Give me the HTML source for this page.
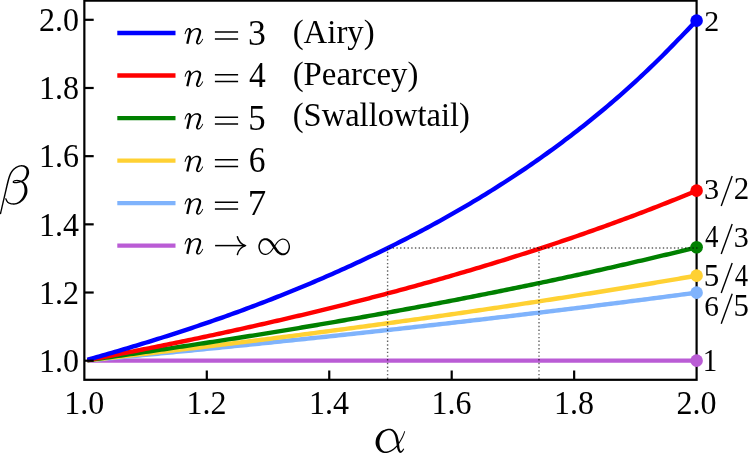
<!DOCTYPE html>
<html><head><meta charset="utf-8"><title>chart</title>
<style>
html,body{margin:0;padding:0;background:#fff;}
body{width:748px;height:453px;overflow:hidden;}
svg{display:block;}
text{font-family:"Liberation Serif",serif;fill:#000;}
.tk{font-size:32px;}
.lt{font-size:32.8px;}
</style></head><body>
<svg width="748" height="453" viewBox="0 0 748 453">
<rect x="0" y="0" width="748" height="453" fill="#ffffff"/>

<path d="M87.41,360.65 L90.47,360.65 L93.53,360.65 L96.59,360.65 L99.66,360.65 L102.72,360.65 L105.78,360.65 L108.84,360.65 L111.90,360.65 L114.96,360.65 L118.02,360.65 L121.08,360.65 L124.15,360.65 L127.21,360.65 L130.27,360.65 L133.33,360.65 L136.39,360.65 L139.45,360.65 L142.51,360.65 L145.57,360.65 L148.64,360.65 L151.70,360.65 L154.76,360.65 L157.82,360.65 L160.88,360.65 L163.94,360.65 L167.00,360.65 L170.06,360.65 L173.13,360.65 L176.19,360.65 L179.25,360.65 L182.31,360.65 L185.37,360.65 L188.43,360.65 L191.49,360.65 L194.55,360.65 L197.62,360.65 L200.68,360.65 L203.74,360.65 L206.80,360.65 L209.86,360.65 L212.92,360.65 L215.98,360.65 L219.04,360.65 L222.11,360.65 L225.17,360.65 L228.23,360.65 L231.29,360.65 L234.35,360.65 L237.41,360.65 L240.47,360.65 L243.53,360.65 L246.60,360.65 L249.66,360.65 L252.72,360.65 L255.78,360.65 L258.84,360.65 L261.90,360.65 L264.96,360.65 L268.02,360.65 L271.09,360.65 L274.15,360.65 L277.21,360.65 L280.27,360.65 L283.33,360.65 L286.39,360.65 L289.45,360.65 L292.51,360.65 L295.58,360.65 L298.64,360.65 L301.70,360.65 L304.76,360.65 L307.82,360.65 L310.88,360.65 L313.94,360.65 L317.00,360.65 L320.07,360.65 L323.13,360.65 L326.19,360.65 L329.25,360.65 L332.31,360.65 L335.37,360.65 L338.43,360.65 L341.49,360.65 L344.56,360.65 L347.62,360.65 L350.68,360.65 L353.74,360.65 L356.80,360.65 L359.86,360.65 L362.92,360.65 L365.98,360.65 L369.05,360.65 L372.11,360.65 L375.17,360.65 L378.23,360.65 L381.29,360.65 L384.35,360.65 L387.41,360.65 L390.47,360.65 L393.54,360.65 L396.60,360.65 L399.66,360.65 L402.72,360.65 L405.78,360.65 L408.84,360.65 L411.90,360.65 L414.96,360.65 L418.03,360.65 L421.09,360.65 L424.15,360.65 L427.21,360.65 L430.27,360.65 L433.33,360.65 L436.39,360.65 L439.45,360.65 L442.52,360.65 L445.58,360.65 L448.64,360.65 L451.70,360.65 L454.76,360.65 L457.82,360.65 L460.88,360.65 L463.94,360.65 L467.01,360.65 L470.07,360.65 L473.13,360.65 L476.19,360.65 L479.25,360.65 L482.31,360.65 L485.37,360.65 L488.43,360.65 L491.50,360.65 L494.56,360.65 L497.62,360.65 L500.68,360.65 L503.74,360.65 L506.80,360.65 L509.86,360.65 L512.92,360.65 L515.99,360.65 L519.05,360.65 L522.11,360.65 L525.17,360.65 L528.23,360.65 L531.29,360.65 L534.35,360.65 L537.41,360.65 L540.48,360.65 L543.54,360.65 L546.60,360.65 L549.66,360.65 L552.72,360.65 L555.78,360.65 L558.84,360.65 L561.90,360.65 L564.97,360.65 L568.03,360.65 L571.09,360.65 L574.15,360.65 L577.21,360.65 L580.27,360.65 L583.33,360.65 L586.39,360.65 L589.46,360.65 L592.52,360.65 L595.58,360.65 L598.64,360.65 L601.70,360.65 L604.76,360.65 L607.82,360.65 L610.88,360.65 L613.95,360.65 L617.01,360.65 L620.07,360.65 L623.13,360.65 L626.19,360.65 L629.25,360.65 L632.31,360.65 L635.37,360.65 L638.44,360.65 L641.50,360.65 L644.56,360.65 L647.62,360.65 L650.68,360.65 L653.74,360.65 L656.80,360.65 L659.86,360.65 L662.93,360.65 L665.99,360.65 L669.05,360.65 L672.11,360.65 L675.17,360.65 L678.23,360.65 L681.29,360.65 L684.35,360.65 L687.42,360.65 L690.48,360.65 L693.54,360.65 L696.60,360.65" stroke="#ba5cd5" stroke-width="4.4" fill="none" stroke-linejoin="round"/>
<path d="M87.41,360.37 L90.47,360.08 L93.53,359.80 L96.59,359.51 L99.66,359.23 L102.72,358.94 L105.78,358.66 L108.84,358.37 L111.90,358.08 L114.96,357.79 L118.02,357.50 L121.08,357.22 L124.15,356.93 L127.21,356.64 L130.27,356.35 L133.33,356.06 L136.39,355.76 L139.45,355.47 L142.51,355.18 L145.57,354.89 L148.64,354.59 L151.70,354.30 L154.76,354.01 L157.82,353.71 L160.88,353.42 L163.94,353.12 L167.00,352.82 L170.06,352.53 L173.13,352.23 L176.19,351.93 L179.25,351.63 L182.31,351.33 L185.37,351.04 L188.43,350.74 L191.49,350.44 L194.55,350.13 L197.62,349.83 L200.68,349.53 L203.74,349.23 L206.80,348.93 L209.86,348.62 L212.92,348.32 L215.98,348.01 L219.04,347.71 L222.11,347.40 L225.17,347.10 L228.23,346.79 L231.29,346.48 L234.35,346.18 L237.41,345.87 L240.47,345.56 L243.53,345.25 L246.60,344.94 L249.66,344.63 L252.72,344.32 L255.78,344.01 L258.84,343.69 L261.90,343.38 L264.96,343.07 L268.02,342.76 L271.09,342.44 L274.15,342.13 L277.21,341.81 L280.27,341.50 L283.33,341.18 L286.39,340.86 L289.45,340.54 L292.51,340.23 L295.58,339.91 L298.64,339.59 L301.70,339.27 L304.76,338.95 L307.82,338.63 L310.88,338.31 L313.94,337.98 L317.00,337.66 L320.07,337.34 L323.13,337.01 L326.19,336.69 L329.25,336.36 L332.31,336.04 L335.37,335.71 L338.43,335.39 L341.49,335.06 L344.56,334.73 L347.62,334.40 L350.68,334.07 L353.74,333.74 L356.80,333.41 L359.86,333.08 L362.92,332.75 L365.98,332.42 L369.05,332.09 L372.11,331.75 L375.17,331.42 L378.23,331.08 L381.29,330.75 L384.35,330.41 L387.41,330.08 L390.47,329.74 L393.54,329.40 L396.60,329.07 L399.66,328.73 L402.72,328.39 L405.78,328.05 L408.84,327.71 L411.90,327.37 L414.96,327.02 L418.03,326.68 L421.09,326.34 L424.15,325.99 L427.21,325.65 L430.27,325.31 L433.33,324.96 L436.39,324.61 L439.45,324.27 L442.52,323.92 L445.58,323.57 L448.64,323.22 L451.70,322.87 L454.76,322.52 L457.82,322.17 L460.88,321.82 L463.94,321.47 L467.01,321.12 L470.07,320.76 L473.13,320.41 L476.19,320.05 L479.25,319.70 L482.31,319.34 L485.37,318.98 L488.43,318.63 L491.50,318.27 L494.56,317.91 L497.62,317.55 L500.68,317.19 L503.74,316.83 L506.80,316.47 L509.86,316.11 L512.92,315.74 L515.99,315.38 L519.05,315.02 L522.11,314.65 L525.17,314.29 L528.23,313.92 L531.29,313.55 L534.35,313.19 L537.41,312.82 L540.48,312.45 L543.54,312.08 L546.60,311.71 L549.66,311.34 L552.72,310.97 L555.78,310.59 L558.84,310.22 L561.90,309.85 L564.97,309.47 L568.03,309.10 L571.09,308.72 L574.15,308.34 L577.21,307.96 L580.27,307.59 L583.33,307.21 L586.39,306.83 L589.46,306.45 L592.52,306.07 L595.58,305.68 L598.64,305.30 L601.70,304.92 L604.76,304.53 L607.82,304.15 L610.88,303.76 L613.95,303.38 L617.01,302.99 L620.07,302.60 L623.13,302.21 L626.19,301.82 L629.25,301.43 L632.31,301.04 L635.37,300.65 L638.44,300.26 L641.50,299.86 L644.56,299.47 L647.62,299.08 L650.68,298.68 L653.74,298.28 L656.80,297.89 L659.86,297.49 L662.93,297.09 L665.99,296.69 L669.05,296.29 L672.11,295.89 L675.17,295.49 L678.23,295.08 L681.29,294.68 L684.35,294.28 L687.42,293.87 L690.48,293.46 L693.54,293.06 L696.60,292.65" stroke="#7fb3fc" stroke-width="4.4" fill="none" stroke-linejoin="round"/>
<path d="M87.41,360.31 L90.47,359.97 L93.53,359.63 L96.59,359.28 L99.66,358.94 L102.72,358.60 L105.78,358.25 L108.84,357.91 L111.90,357.56 L114.96,357.22 L118.02,356.87 L121.08,356.52 L124.15,356.17 L127.21,355.82 L130.27,355.47 L133.33,355.12 L136.39,354.77 L139.45,354.42 L142.51,354.06 L145.57,353.71 L148.64,353.36 L151.70,353.00 L154.76,352.65 L157.82,352.29 L160.88,351.93 L163.94,351.57 L167.00,351.22 L170.06,350.86 L173.13,350.50 L176.19,350.13 L179.25,349.77 L182.31,349.41 L185.37,349.05 L188.43,348.68 L191.49,348.32 L194.55,347.95 L197.62,347.59 L200.68,347.22 L203.74,346.85 L206.80,346.48 L209.86,346.11 L212.92,345.74 L215.98,345.37 L219.04,345.00 L222.11,344.63 L225.17,344.26 L228.23,343.88 L231.29,343.51 L234.35,343.13 L237.41,342.76 L240.47,342.38 L243.53,342.00 L246.60,341.62 L249.66,341.24 L252.72,340.86 L255.78,340.48 L258.84,340.10 L261.90,339.72 L264.96,339.33 L268.02,338.95 L271.09,338.56 L274.15,338.18 L277.21,337.79 L280.27,337.40 L283.33,337.01 L286.39,336.62 L289.45,336.23 L292.51,335.84 L295.58,335.45 L298.64,335.06 L301.70,334.67 L304.76,334.27 L307.82,333.88 L310.88,333.48 L313.94,333.08 L317.00,332.68 L320.07,332.29 L323.13,331.89 L326.19,331.49 L329.25,331.08 L332.31,330.68 L335.37,330.28 L338.43,329.88 L341.49,329.47 L344.56,329.07 L347.62,328.66 L350.68,328.25 L353.74,327.84 L356.80,327.43 L359.86,327.02 L362.92,326.61 L365.98,326.20 L369.05,325.79 L372.11,325.37 L375.17,324.96 L378.23,324.54 L381.29,324.13 L384.35,323.71 L387.41,323.29 L390.47,322.87 L393.54,322.45 L396.60,322.03 L399.66,321.61 L402.72,321.19 L405.78,320.76 L408.84,320.34 L411.90,319.91 L414.96,319.48 L418.03,319.06 L421.09,318.63 L424.15,318.20 L427.21,317.77 L430.27,317.34 L433.33,316.90 L436.39,316.47 L439.45,316.03 L442.52,315.60 L445.58,315.16 L448.64,314.72 L451.70,314.29 L454.76,313.85 L457.82,313.41 L460.88,312.96 L463.94,312.52 L467.01,312.08 L470.07,311.63 L473.13,311.19 L476.19,310.74 L479.25,310.29 L482.31,309.85 L485.37,309.40 L488.43,308.94 L491.50,308.49 L494.56,308.04 L497.62,307.59 L500.68,307.13 L503.74,306.68 L506.80,306.22 L509.86,305.76 L512.92,305.30 L515.99,304.84 L519.05,304.38 L522.11,303.92 L525.17,303.45 L528.23,302.99 L531.29,302.52 L534.35,302.06 L537.41,301.59 L540.48,301.12 L543.54,300.65 L546.60,300.18 L549.66,299.71 L552.72,299.23 L555.78,298.76 L558.84,298.28 L561.90,297.81 L564.97,297.33 L568.03,296.85 L571.09,296.37 L574.15,295.89 L577.21,295.41 L580.27,294.92 L583.33,294.44 L586.39,293.95 L589.46,293.46 L592.52,292.98 L595.58,292.49 L598.64,292.00 L601.70,291.50 L604.76,291.01 L607.82,290.52 L610.88,290.02 L613.95,289.53 L617.01,289.03 L620.07,288.53 L623.13,288.03 L626.19,287.53 L629.25,287.02 L632.31,286.52 L635.37,286.02 L638.44,285.51 L641.50,285.00 L644.56,284.49 L647.62,283.98 L650.68,283.47 L653.74,282.96 L656.80,282.45 L659.86,281.93 L662.93,281.41 L665.99,280.90 L669.05,280.38 L672.11,279.86 L675.17,279.34 L678.23,278.81 L681.29,278.29 L684.35,277.76 L687.42,277.24 L690.48,276.71 L693.54,276.18 L696.60,275.65" stroke="#ffd133" stroke-width="4.4" fill="none" stroke-linejoin="round"/>
<path d="M87.41,360.22 L90.47,359.80 L93.53,359.37 L96.59,358.94 L99.66,358.51 L102.72,358.08 L105.78,357.65 L108.84,357.22 L111.90,356.78 L114.96,356.35 L118.02,355.91 L121.08,355.47 L124.15,355.03 L127.21,354.59 L130.27,354.15 L133.33,353.71 L136.39,353.27 L139.45,352.82 L142.51,352.38 L145.57,351.93 L148.64,351.48 L151.70,351.04 L154.76,350.59 L157.82,350.13 L160.88,349.68 L163.94,349.23 L167.00,348.77 L170.06,348.32 L173.13,347.86 L176.19,347.40 L179.25,346.94 L182.31,346.48 L185.37,346.02 L188.43,345.56 L191.49,345.09 L194.55,344.63 L197.62,344.16 L200.68,343.69 L203.74,343.23 L206.80,342.76 L209.86,342.28 L212.92,341.81 L215.98,341.34 L219.04,340.86 L222.11,340.39 L225.17,339.91 L228.23,339.43 L231.29,338.95 L234.35,338.47 L237.41,337.98 L240.47,337.50 L243.53,337.01 L246.60,336.53 L249.66,336.04 L252.72,335.55 L255.78,335.06 L258.84,334.57 L261.90,334.07 L264.96,333.58 L268.02,333.08 L271.09,332.59 L274.15,332.09 L277.21,331.59 L280.27,331.08 L283.33,330.58 L286.39,330.08 L289.45,329.57 L292.51,329.07 L295.58,328.56 L298.64,328.05 L301.70,327.54 L304.76,327.02 L307.82,326.51 L310.88,325.99 L313.94,325.48 L317.00,324.96 L320.07,324.44 L323.13,323.92 L326.19,323.40 L329.25,322.87 L332.31,322.35 L335.37,321.82 L338.43,321.29 L341.49,320.76 L344.56,320.23 L347.62,319.70 L350.68,319.16 L353.74,318.63 L356.80,318.09 L359.86,317.55 L362.92,317.01 L365.98,316.47 L369.05,315.93 L372.11,315.38 L375.17,314.83 L378.23,314.29 L381.29,313.74 L384.35,313.19 L387.41,312.63 L390.47,312.08 L393.54,311.52 L396.60,310.97 L399.66,310.41 L402.72,309.85 L405.78,309.28 L408.84,308.72 L411.90,308.15 L414.96,307.59 L418.03,307.02 L421.09,306.45 L424.15,305.87 L427.21,305.30 L430.27,304.73 L433.33,304.15 L436.39,303.57 L439.45,302.99 L442.52,302.41 L445.58,301.82 L448.64,301.24 L451.70,300.65 L454.76,300.06 L457.82,299.47 L460.88,298.88 L463.94,298.28 L467.01,297.69 L470.07,297.09 L473.13,296.49 L476.19,295.89 L479.25,295.28 L482.31,294.68 L485.37,294.07 L488.43,293.46 L491.50,292.85 L494.56,292.24 L497.62,291.63 L500.68,291.01 L503.74,290.39 L506.80,289.77 L509.86,289.15 L512.92,288.53 L515.99,287.90 L519.05,287.28 L522.11,286.65 L525.17,286.02 L528.23,285.38 L531.29,284.75 L534.35,284.11 L537.41,283.47 L540.48,282.83 L543.54,282.19 L546.60,281.54 L549.66,280.90 L552.72,280.25 L555.78,279.60 L558.84,278.94 L561.90,278.29 L564.97,277.63 L568.03,276.97 L571.09,276.31 L574.15,275.65 L577.21,274.98 L580.27,274.32 L583.33,273.65 L586.39,272.98 L589.46,272.30 L592.52,271.63 L595.58,270.95 L598.64,270.27 L601.70,269.59 L604.76,268.90 L607.82,268.22 L610.88,267.53 L613.95,266.84 L617.01,266.15 L620.07,265.45 L623.13,264.75 L626.19,264.05 L629.25,263.35 L632.31,262.65 L635.37,261.94 L638.44,261.23 L641.50,260.52 L644.56,259.81 L647.62,259.09 L650.68,258.37 L653.74,257.65 L656.80,256.93 L659.86,256.21 L662.93,255.48 L665.99,254.75 L669.05,254.02 L672.11,253.28 L675.17,252.54 L678.23,251.81 L681.29,251.06 L684.35,250.32 L687.42,249.57 L690.48,248.82 L693.54,248.07 L696.60,247.32" stroke="#008000" stroke-width="4.4" fill="none" stroke-linejoin="round"/>
<path d="M87.41,360.08 L90.47,359.51 L93.53,358.94 L96.59,358.37 L99.66,357.79 L102.72,357.22 L105.78,356.64 L108.84,356.06 L111.90,355.47 L114.96,354.89 L118.02,354.30 L121.08,353.71 L124.15,353.12 L127.21,352.53 L130.27,351.93 L133.33,351.33 L136.39,350.74 L139.45,350.13 L142.51,349.53 L145.57,348.93 L148.64,348.32 L151.70,347.71 L154.76,347.10 L157.82,346.48 L160.88,345.87 L163.94,345.25 L167.00,344.63 L170.06,344.01 L173.13,343.38 L176.19,342.76 L179.25,342.13 L182.31,341.50 L185.37,340.86 L188.43,340.23 L191.49,339.59 L194.55,338.95 L197.62,338.31 L200.68,337.66 L203.74,337.01 L206.80,336.36 L209.86,335.71 L212.92,335.06 L215.98,334.40 L219.04,333.74 L222.11,333.08 L225.17,332.42 L228.23,331.75 L231.29,331.08 L234.35,330.41 L237.41,329.74 L240.47,329.07 L243.53,328.39 L246.60,327.71 L249.66,327.02 L252.72,326.34 L255.78,325.65 L258.84,324.96 L261.90,324.27 L264.96,323.57 L268.02,322.87 L271.09,322.17 L274.15,321.47 L277.21,320.76 L280.27,320.05 L283.33,319.34 L286.39,318.63 L289.45,317.91 L292.51,317.19 L295.58,316.47 L298.64,315.74 L301.70,315.02 L304.76,314.29 L307.82,313.55 L310.88,312.82 L313.94,312.08 L317.00,311.34 L320.07,310.59 L323.13,309.85 L326.19,309.10 L329.25,308.34 L332.31,307.59 L335.37,306.83 L338.43,306.07 L341.49,305.30 L344.56,304.53 L347.62,303.76 L350.68,302.99 L353.74,302.21 L356.80,301.43 L359.86,300.65 L362.92,299.86 L365.98,299.08 L369.05,298.28 L372.11,297.49 L375.17,296.69 L378.23,295.89 L381.29,295.08 L384.35,294.28 L387.41,293.46 L390.47,292.65 L393.54,291.83 L396.60,291.01 L399.66,290.19 L402.72,289.36 L405.78,288.53 L408.84,287.69 L411.90,286.86 L414.96,286.02 L418.03,285.17 L421.09,284.32 L424.15,283.47 L427.21,282.62 L430.27,281.76 L433.33,280.90 L436.39,280.03 L439.45,279.16 L442.52,278.29 L445.58,277.41 L448.64,276.53 L451.70,275.65 L454.76,274.76 L457.82,273.87 L460.88,272.98 L463.94,272.08 L467.01,271.18 L470.07,270.27 L473.13,269.36 L476.19,268.45 L479.25,267.53 L482.31,266.61 L485.37,265.68 L488.43,264.75 L491.50,263.82 L494.56,262.88 L497.62,261.94 L500.68,260.99 L503.74,260.05 L506.80,259.09 L509.86,258.13 L512.92,257.17 L515.99,256.21 L519.05,255.24 L522.11,254.26 L525.17,253.28 L528.23,252.30 L531.29,251.31 L534.35,250.32 L537.41,249.32 L540.48,248.32 L543.54,247.32 L546.60,246.31 L549.66,245.29 L552.72,244.27 L555.78,243.25 L558.84,242.22 L561.90,241.19 L564.97,240.15 L568.03,239.11 L571.09,238.06 L574.15,237.01 L577.21,235.96 L580.27,234.90 L583.33,233.83 L586.39,232.76 L589.46,231.68 L592.52,230.60 L595.58,229.52 L598.64,228.43 L601.70,227.33 L604.76,226.23 L607.82,225.13 L610.88,224.01 L613.95,222.90 L617.01,221.78 L620.07,220.65 L623.13,219.52 L626.19,218.38 L629.25,217.24 L632.31,216.09 L635.37,214.94 L638.44,213.78 L641.50,212.61 L644.56,211.44 L647.62,210.27 L650.68,209.08 L653.74,207.90 L656.80,206.70 L659.86,205.50 L662.93,204.30 L665.99,203.09 L669.05,201.87 L672.11,200.65 L675.17,199.42 L678.23,198.19 L681.29,196.95 L684.35,195.70 L687.42,194.45 L690.48,193.19 L693.54,191.92 L696.60,190.65" stroke="#ff0000" stroke-width="4.4" fill="none" stroke-linejoin="round"/>
<path d="M87.41,359.80 L90.47,358.94 L93.53,358.08 L96.59,357.22 L99.66,356.35 L102.72,355.47 L105.78,354.59 L108.84,353.71 L111.90,352.82 L114.96,351.93 L118.02,351.04 L121.08,350.13 L124.15,349.23 L127.21,348.32 L130.27,347.40 L133.33,346.48 L136.39,345.56 L139.45,344.63 L142.51,343.69 L145.57,342.76 L148.64,341.81 L151.70,340.86 L154.76,339.91 L157.82,338.95 L160.88,337.98 L163.94,337.01 L167.00,336.04 L170.06,335.06 L173.13,334.07 L176.19,333.08 L179.25,332.09 L182.31,331.08 L185.37,330.08 L188.43,329.07 L191.49,328.05 L194.55,327.02 L197.62,325.99 L200.68,324.96 L203.74,323.92 L206.80,322.87 L209.86,321.82 L212.92,320.76 L215.98,319.70 L219.04,318.63 L222.11,317.55 L225.17,316.47 L228.23,315.38 L231.29,314.29 L234.35,313.19 L237.41,312.08 L240.47,310.95 L243.53,309.82 L246.60,308.68 L249.66,307.53 L252.72,306.38 L255.78,305.22 L258.84,304.06 L261.90,302.89 L264.96,301.71 L268.02,300.52 L271.09,299.33 L274.15,298.13 L277.21,296.92 L280.27,295.71 L283.33,294.48 L286.39,293.26 L289.45,292.02 L292.51,290.78 L295.58,289.53 L298.64,288.27 L301.70,287.00 L304.76,285.73 L307.82,284.45 L310.88,283.16 L313.94,281.86 L317.00,280.56 L320.07,279.25 L323.13,277.93 L326.19,276.60 L329.25,275.26 L332.31,273.91 L335.37,272.56 L338.43,271.20 L341.49,269.83 L344.56,268.45 L347.62,267.06 L350.68,265.66 L353.74,264.26 L356.80,262.84 L359.86,261.42 L362.92,259.99 L365.98,258.55 L369.05,257.09 L372.11,255.63 L375.17,254.16 L378.23,252.68 L381.29,251.19 L384.35,249.69 L387.41,248.19 L390.47,246.67 L393.54,245.15 L396.60,243.62 L399.66,242.08 L402.72,240.52 L405.78,238.96 L408.84,237.39 L411.90,235.81 L414.96,234.21 L418.03,232.61 L421.09,230.99 L424.15,229.37 L427.21,227.73 L430.27,226.08 L433.33,224.42 L436.39,222.74 L439.45,221.06 L442.52,219.36 L445.58,217.66 L448.64,215.94 L451.70,214.20 L454.76,212.46 L457.82,210.70 L460.88,208.93 L463.94,207.15 L467.01,205.35 L470.07,203.54 L473.13,201.72 L476.19,199.88 L479.25,198.03 L482.31,196.17 L485.37,194.29 L488.43,192.40 L491.50,190.50 L494.56,188.58 L497.62,186.65 L500.68,184.70 L503.74,182.74 L506.80,180.76 L509.86,178.76 L512.92,176.76 L515.99,174.73 L519.05,172.69 L522.11,170.64 L525.17,168.57 L528.23,166.48 L531.29,164.38 L534.35,162.25 L537.41,160.12 L540.48,157.96 L543.54,155.79 L546.60,153.60 L549.66,151.40 L552.72,149.17 L555.78,146.93 L558.84,144.67 L561.90,142.39 L564.97,140.09 L568.03,137.77 L571.09,135.44 L574.15,133.08 L577.21,130.71 L580.27,128.32 L583.33,125.91 L586.39,123.48 L589.46,121.03 L592.52,118.55 L595.58,116.06 L598.64,113.54 L601.70,111.01 L604.76,108.45 L607.82,105.86 L610.88,103.26 L613.95,100.63 L617.01,97.98 L620.07,95.31 L623.13,92.61 L626.19,89.88 L629.25,87.14 L632.31,84.37 L635.37,81.57 L638.44,78.75 L641.50,75.90 L644.56,73.02 L647.62,70.12 L650.68,67.19 L653.74,64.24 L656.80,61.25 L659.86,58.24 L662.93,55.20 L665.99,52.13 L669.05,49.03 L672.11,45.90 L675.17,42.75 L678.23,39.56 L681.29,36.44 L684.35,33.28 L687.42,30.10 L690.48,26.88 L693.54,23.63 L696.60,20.35" stroke="#0000ff" stroke-width="4.4" fill="none" stroke-linejoin="round"/>
<g stroke="#000" stroke-width="2.2" fill="none">
<rect x="84.35" y="0.65" width="612.25" height="379.15"/>
<line x1="206.80" y1="379.8" x2="206.80" y2="370.5"/>
<line x1="329.25" y1="379.8" x2="329.25" y2="370.5"/>
<line x1="451.70" y1="379.8" x2="451.70" y2="370.5"/>
<line x1="574.15" y1="379.8" x2="574.15" y2="370.5"/>
<line x1="84.35" y1="360.70" x2="93.7" y2="360.70"/>
<line x1="84.35" y1="292.52" x2="93.7" y2="292.52"/>
<line x1="84.35" y1="224.34" x2="93.7" y2="224.34"/>
<line x1="84.35" y1="156.16" x2="93.7" y2="156.16"/>
<line x1="84.35" y1="87.98" x2="93.7" y2="87.98"/>
<line x1="84.35" y1="19.80" x2="93.7" y2="19.80"/>
</g>
<circle cx="696.60" cy="360.65" r="6.3" fill="#ba5cd5"/>
<circle cx="696.60" cy="292.65" r="6.3" fill="#7fb3fc"/>
<circle cx="696.60" cy="275.65" r="6.3" fill="#ffd133"/>
<circle cx="696.60" cy="247.32" r="6.3" fill="#008000"/>
<circle cx="696.60" cy="190.65" r="6.3" fill="#ff0000"/>
<circle cx="696.60" cy="20.65" r="6.3" fill="#0000ff"/>
<g stroke="#000" stroke-width="1.4" stroke-dasharray="1.4 2.3" stroke-opacity="0.62" fill="none">
<line x1="387.6" y1="379.0" x2="387.6" y2="248.0"/>
<line x1="539.0" y1="379.0" x2="539.0" y2="248.0"/>
<line x1="697.5" y1="248.0" x2="387.6" y2="248.0"/>
</g>
<g style="will-change:transform">
<text class="tk" transform="translate(84.15,413.9) scale(1,1.07)" text-anchor="middle">1.0</text>
<text class="tk" transform="translate(78.9,371.90) scale(1,1.07)" text-anchor="end">1.0</text>
<text class="tk" transform="translate(206.60,413.9) scale(1,1.07)" text-anchor="middle">1.2</text>
<text class="tk" transform="translate(78.9,303.72) scale(1,1.07)" text-anchor="end">1.2</text>
<text class="tk" transform="translate(329.05,413.9) scale(1,1.07)" text-anchor="middle">1.4</text>
<text class="tk" transform="translate(78.9,235.54) scale(1,1.07)" text-anchor="end">1.4</text>
<text class="tk" transform="translate(451.50,413.9) scale(1,1.07)" text-anchor="middle">1.6</text>
<text class="tk" transform="translate(78.9,167.36) scale(1,1.07)" text-anchor="end">1.6</text>
<text class="tk" transform="translate(573.95,413.9) scale(1,1.07)" text-anchor="middle">1.8</text>
<text class="tk" transform="translate(78.9,99.18) scale(1,1.07)" text-anchor="end">1.8</text>
<text class="tk" transform="translate(696.40,413.9) scale(1,1.07)" text-anchor="middle">2.0</text>
<text class="tk" transform="translate(78.9,31.00) scale(1,1.07)" text-anchor="end">2.0</text>
<line x1="117.3" y1="33.0" x2="175.5" y2="33.0" stroke="#0000ff" stroke-width="4.3"/>
<path d="M185.37,34.34 L185.45,34.11 L185.54,33.89 L185.62,33.66 L185.70,33.43 L185.77,33.20 L185.85,32.98 L185.93,32.75 L186.01,32.54 L186.09,32.32 L186.17,32.11 L186.25,31.92 L186.33,31.73 L186.42,31.55 L186.51,31.38 L186.60,31.22 L186.70,31.06 L186.80,30.90 L186.90,30.75 L187.00,30.60 L187.11,30.46 L187.21,30.32 L187.32,30.20 L187.42,30.08 L187.53,29.97 L187.63,29.88 L187.72,29.79 L187.82,29.71 L187.91,29.65 L188.00,29.61 L188.10,29.57 L188.19,29.53 L188.29,29.51 L188.38,29.49 L188.47,29.48 L188.55,29.47 L188.63,29.48 L188.69,29.49 L188.74,29.50 L188.78,29.52 L188.80,29.54 L188.81,29.56 L188.80,29.58 L188.80,29.60 L188.81,29.63 L188.83,29.66 L188.85,29.71 L188.88,29.76 L188.90,29.82 L188.92,29.88 L188.94,29.95 L188.96,30.03 L188.97,30.11 L188.98,30.19 L188.99,30.28 L188.99,30.37 L188.99,30.47 L188.99,30.57 L188.99,30.68 L188.98,30.81 L188.97,30.96 L188.95,31.11 L188.92,31.29 L188.89,31.48 L188.85,31.68 L188.80,31.90 L188.75,32.13 L188.70,32.38 L188.64,32.65 L188.58,32.93 L188.52,33.22 L188.46,33.52 L188.39,33.84 L188.32,34.19 L188.24,34.54 L188.16,34.92 L188.07,35.30 L187.99,35.69 L187.89,36.09 L187.80,36.49 L187.71,36.89 L187.62,37.29 L187.53,37.68 L187.44,38.07 L187.35,38.44 L187.27,38.81 L187.18,39.17 L187.10,39.54 L187.02,39.90 L186.93,40.26 L186.85,40.62 L186.76,40.98 L186.68,41.34 L186.60,41.70 L186.51,42.06 L186.43,42.42 L186.35,42.79 L186.26,43.15 L186.18,43.51 L188.42,44.03 L188.50,43.67 L188.59,43.31 L188.67,42.95 L188.75,42.59 L188.84,42.23 L188.92,41.87 L189.01,41.51 L189.09,41.14 L189.17,40.78 L189.26,40.42 L189.34,40.05 L189.43,39.69 L189.51,39.32 L189.59,38.95 L189.68,38.58 L189.77,38.20 L189.86,37.80 L189.95,37.41 L190.04,37.00 L190.14,36.60 L190.23,36.20 L190.32,35.81 L190.40,35.42 L190.49,35.04 L190.57,34.67 L190.64,34.32 L190.71,33.98 L190.78,33.66 L190.83,33.37 L190.88,33.10 L190.93,32.83 L190.98,32.58 L191.02,32.33 L191.07,32.09 L191.10,31.85 L191.14,31.62 L191.17,31.39 L191.19,31.16 L191.20,30.93 L191.20,30.70 L191.20,30.47 L191.17,30.23 L191.12,30.00 L191.06,29.78 L190.98,29.57 L190.89,29.37 L190.79,29.18 L190.69,29.00 L190.57,28.84 L190.44,28.68 L190.30,28.54 L190.16,28.41 L190.01,28.30 L189.85,28.19 L189.69,28.10 L189.51,28.03 L189.31,27.97 L189.11,27.94 L188.92,27.93 L188.73,27.94 L188.56,27.97 L188.38,28.01 L188.21,28.06 L188.05,28.13 L187.89,28.20 L187.74,28.28 L187.59,28.37 L187.45,28.47 L187.31,28.58 L187.18,28.70 L187.05,28.81 L186.92,28.94 L186.80,29.07 L186.68,29.21 L186.56,29.36 L186.44,29.51 L186.33,29.67 L186.22,29.84 L186.11,30.01 L186.01,30.18 L185.90,30.36 L185.81,30.55 L185.71,30.73 L185.62,30.92 L185.52,31.12 L185.43,31.33 L185.34,31.55 L185.26,31.77 L185.18,31.99 L185.11,32.22 L185.03,32.45 L184.96,32.68 L184.89,32.91 L184.81,33.14 L184.74,33.37 L184.67,33.59 L184.60,33.81 L184.52,34.03Z M189.79,35.52 L189.96,35.24 L190.13,34.95 L190.30,34.65 L190.46,34.36 L190.63,34.06 L190.79,33.76 L190.95,33.47 L191.12,33.19 L191.28,32.91 L191.45,32.65 L191.61,32.40 L191.78,32.16 L191.95,31.93 L192.13,31.73 L192.32,31.53 L192.51,31.34 L192.70,31.15 L192.90,30.98 L193.11,30.81 L193.31,30.65 L193.52,30.50 L193.72,30.36 L193.93,30.23 L194.14,30.11 L194.34,30.00 L194.55,29.90 L194.75,29.81 L194.94,29.73 L195.14,29.67 L195.35,29.63 L195.55,29.59 L195.76,29.56 L195.97,29.54 L196.17,29.53 L196.37,29.53 L196.57,29.53 L196.77,29.55 L196.95,29.57 L197.13,29.60 L197.29,29.64 L197.44,29.69 L197.58,29.74 L197.71,29.80 L197.84,29.87 L197.97,29.95 L198.10,30.04 L198.23,30.14 L198.35,30.24 L198.46,30.35 L198.57,30.46 L198.66,30.57 L198.73,30.68 L198.79,30.78 L198.84,30.88 L198.87,30.97 L198.89,31.05 L198.91,31.13 L198.93,31.22 L198.94,31.32 L198.94,31.43 L198.94,31.56 L198.93,31.70 L198.90,31.87 L198.88,32.05 L198.84,32.25 L198.79,32.46 L198.74,32.70 L198.68,32.95 L198.61,33.21 L198.55,33.48 L198.48,33.76 L198.40,34.06 L198.30,34.38 L198.20,34.73 L198.08,35.09 L197.96,35.46 L197.83,35.83 L197.70,36.21 L197.57,36.59 L197.44,36.96 L197.31,37.33 L197.19,37.68 L197.07,38.02 L196.97,38.33 L196.89,38.61 L196.80,38.88 L196.71,39.15 L196.62,39.42 L196.52,39.69 L196.43,39.95 L196.34,40.21 L196.25,40.47 L196.17,40.73 L196.09,40.99 L196.03,41.25 L195.98,41.51 L195.95,41.78 L195.93,42.05 L195.95,42.31 L195.99,42.57 L196.05,42.80 L196.13,43.03 L196.23,43.24 L196.34,43.43 L196.46,43.61 L196.59,43.77 L196.73,43.91 L196.88,44.04 L197.03,44.16 L197.19,44.25 L197.35,44.34 L197.52,44.41 L197.71,44.46 L197.90,44.50 L198.08,44.51 L198.27,44.50 L198.45,44.48 L198.63,44.45 L198.80,44.41 L198.98,44.35 L199.15,44.28 L199.31,44.21 L199.48,44.12 L199.64,44.03 L199.79,43.92 L199.95,43.81 L200.10,43.70 L200.26,43.57 L200.41,43.43 L200.56,43.28 L200.70,43.12 L200.85,42.95 L200.99,42.78 L201.13,42.61 L201.26,42.43 L201.40,42.25 L201.53,42.08 L201.65,41.90 L201.77,41.72 L201.89,41.55 L202.01,41.38 L202.12,41.20 L202.22,41.01 L202.33,40.83 L202.42,40.65 L202.52,40.46 L202.61,40.28 L202.70,40.09 L202.79,39.91 L202.88,39.73 L202.97,39.54 L203.05,39.37 L203.14,39.19 L203.23,39.01 L202.53,38.63 L202.43,38.81 L202.33,38.99 L202.23,39.17 L202.14,39.35 L202.04,39.53 L201.95,39.71 L201.85,39.89 L201.76,40.06 L201.66,40.23 L201.57,40.40 L201.47,40.57 L201.37,40.73 L201.26,40.88 L201.15,41.04 L201.03,41.20 L200.91,41.36 L200.79,41.53 L200.66,41.69 L200.53,41.86 L200.39,42.02 L200.26,42.17 L200.13,42.32 L200.00,42.46 L199.87,42.59 L199.74,42.71 L199.62,42.82 L199.50,42.91 L199.39,42.98 L199.27,43.04 L199.15,43.09 L199.03,43.13 L198.90,43.17 L198.78,43.20 L198.67,43.22 L198.56,43.23 L198.46,43.24 L198.36,43.23 L198.28,43.22 L198.21,43.20 L198.16,43.18 L198.12,43.16 L198.10,43.13 L198.07,43.10 L198.03,43.05 L197.99,43.00 L197.96,42.94 L197.92,42.87 L197.89,42.80 L197.86,42.73 L197.83,42.65 L197.82,42.58 L197.80,42.50 L197.80,42.41 L197.80,42.33 L197.81,42.24 L197.83,42.15 L197.86,42.05 L197.89,41.92 L197.94,41.78 L198.01,41.61 L198.09,41.42 L198.18,41.22 L198.29,41.00 L198.40,40.76 L198.52,40.51 L198.64,40.25 L198.77,39.97 L198.90,39.68 L199.02,39.38 L199.15,39.07 L199.25,38.76 L199.36,38.43 L199.48,38.08 L199.61,37.72 L199.74,37.35 L199.88,36.96 L200.01,36.58 L200.14,36.19 L200.27,35.80 L200.39,35.42 L200.50,35.05 L200.61,34.69 L200.71,34.34 L200.78,34.02 L200.85,33.73 L200.91,33.45 L200.96,33.18 L201.02,32.92 L201.06,32.66 L201.11,32.40 L201.14,32.14 L201.16,31.88 L201.17,31.61 L201.17,31.35 L201.14,31.08 L201.10,30.81 L201.03,30.53 L200.94,30.26 L200.81,30.00 L200.65,29.76 L200.48,29.54 L200.29,29.34 L200.10,29.15 L199.89,28.98 L199.68,28.82 L199.46,28.68 L199.23,28.55 L199.00,28.43 L198.76,28.33 L198.53,28.24 L198.29,28.17 L198.04,28.11 L197.80,28.07 L197.55,28.04 L197.30,28.02 L197.04,28.02 L196.78,28.03 L196.52,28.05 L196.26,28.08 L196.00,28.12 L195.74,28.18 L195.49,28.24 L195.23,28.32 L194.98,28.41 L194.73,28.51 L194.49,28.62 L194.25,28.73 L194.02,28.85 L193.78,28.98 L193.55,29.13 L193.32,29.28 L193.09,29.45 L192.86,29.62 L192.63,29.80 L192.41,29.99 L192.20,30.19 L191.98,30.40 L191.77,30.62 L191.57,30.84 L191.37,31.07 L191.17,31.32 L190.98,31.58 L190.80,31.85 L190.62,32.13 L190.45,32.42 L190.28,32.72 L190.12,33.01 L189.96,33.31 L189.80,33.61 L189.65,33.91 L189.49,34.21 L189.33,34.50 L189.17,34.79 L189.01,35.07Z" fill="#000"/>
<path d="M214.9,32.10H238.1M214.9,38.90H238.1" stroke="#000" stroke-width="1.5" fill="none"/>
<text font-size="100" transform="translate(248.09,44.65) scale(0.3583,0.3602)" >3</text>
<text class="lt" x="292.7" y="42.6">(Airy)</text>
<line x1="117.3" y1="75.5" x2="175.5" y2="75.5" stroke="#ff0000" stroke-width="4.3"/>
<path d="M185.37,76.89 L185.45,76.66 L185.54,76.44 L185.62,76.21 L185.70,75.98 L185.77,75.75 L185.85,75.53 L185.93,75.30 L186.01,75.09 L186.09,74.87 L186.17,74.66 L186.25,74.47 L186.33,74.28 L186.42,74.10 L186.51,73.93 L186.60,73.77 L186.70,73.61 L186.80,73.45 L186.90,73.30 L187.00,73.15 L187.11,73.01 L187.21,72.87 L187.32,72.75 L187.42,72.63 L187.53,72.52 L187.63,72.43 L187.72,72.34 L187.82,72.26 L187.91,72.20 L188.00,72.16 L188.10,72.12 L188.19,72.08 L188.29,72.06 L188.38,72.04 L188.47,72.03 L188.55,72.02 L188.63,72.03 L188.69,72.04 L188.74,72.05 L188.78,72.07 L188.80,72.09 L188.81,72.11 L188.80,72.13 L188.80,72.15 L188.81,72.18 L188.83,72.21 L188.85,72.26 L188.88,72.31 L188.90,72.37 L188.92,72.43 L188.94,72.50 L188.96,72.58 L188.97,72.66 L188.98,72.74 L188.99,72.83 L188.99,72.92 L188.99,73.02 L188.99,73.12 L188.99,73.23 L188.98,73.36 L188.97,73.51 L188.95,73.66 L188.92,73.84 L188.89,74.03 L188.85,74.23 L188.80,74.45 L188.75,74.68 L188.70,74.93 L188.64,75.20 L188.58,75.48 L188.52,75.77 L188.46,76.07 L188.39,76.39 L188.32,76.74 L188.24,77.09 L188.16,77.47 L188.07,77.85 L187.99,78.24 L187.89,78.64 L187.80,79.04 L187.71,79.44 L187.62,79.84 L187.53,80.23 L187.44,80.62 L187.35,80.99 L187.27,81.36 L187.18,81.72 L187.10,82.09 L187.02,82.45 L186.93,82.81 L186.85,83.17 L186.76,83.53 L186.68,83.89 L186.60,84.25 L186.51,84.61 L186.43,84.97 L186.35,85.34 L186.26,85.70 L186.18,86.06 L188.42,86.58 L188.50,86.22 L188.59,85.86 L188.67,85.50 L188.75,85.14 L188.84,84.78 L188.92,84.42 L189.01,84.06 L189.09,83.69 L189.17,83.33 L189.26,82.97 L189.34,82.60 L189.43,82.24 L189.51,81.87 L189.59,81.50 L189.68,81.13 L189.77,80.75 L189.86,80.35 L189.95,79.96 L190.04,79.55 L190.14,79.15 L190.23,78.75 L190.32,78.36 L190.40,77.97 L190.49,77.59 L190.57,77.22 L190.64,76.87 L190.71,76.53 L190.78,76.21 L190.83,75.92 L190.88,75.65 L190.93,75.38 L190.98,75.13 L191.02,74.88 L191.07,74.64 L191.10,74.40 L191.14,74.17 L191.17,73.94 L191.19,73.71 L191.20,73.48 L191.20,73.25 L191.20,73.02 L191.17,72.78 L191.12,72.55 L191.06,72.33 L190.98,72.12 L190.89,71.92 L190.79,71.73 L190.69,71.55 L190.57,71.39 L190.44,71.23 L190.30,71.09 L190.16,70.96 L190.01,70.85 L189.85,70.74 L189.69,70.65 L189.51,70.58 L189.31,70.52 L189.11,70.49 L188.92,70.48 L188.73,70.49 L188.56,70.52 L188.38,70.56 L188.21,70.61 L188.05,70.68 L187.89,70.75 L187.74,70.83 L187.59,70.92 L187.45,71.02 L187.31,71.13 L187.18,71.25 L187.05,71.36 L186.92,71.49 L186.80,71.62 L186.68,71.76 L186.56,71.91 L186.44,72.06 L186.33,72.22 L186.22,72.39 L186.11,72.56 L186.01,72.73 L185.90,72.91 L185.81,73.10 L185.71,73.28 L185.62,73.47 L185.52,73.67 L185.43,73.88 L185.34,74.10 L185.26,74.32 L185.18,74.54 L185.11,74.77 L185.03,75.00 L184.96,75.23 L184.89,75.46 L184.81,75.69 L184.74,75.92 L184.67,76.14 L184.60,76.36 L184.52,76.58Z M189.79,78.07 L189.96,77.79 L190.13,77.50 L190.30,77.20 L190.46,76.91 L190.63,76.61 L190.79,76.31 L190.95,76.02 L191.12,75.74 L191.28,75.46 L191.45,75.20 L191.61,74.95 L191.78,74.71 L191.95,74.48 L192.13,74.28 L192.32,74.08 L192.51,73.89 L192.70,73.70 L192.90,73.53 L193.11,73.36 L193.31,73.20 L193.52,73.05 L193.72,72.91 L193.93,72.78 L194.14,72.66 L194.34,72.55 L194.55,72.45 L194.75,72.36 L194.94,72.28 L195.14,72.22 L195.35,72.18 L195.55,72.14 L195.76,72.11 L195.97,72.09 L196.17,72.08 L196.37,72.08 L196.57,72.08 L196.77,72.10 L196.95,72.12 L197.13,72.15 L197.29,72.19 L197.44,72.24 L197.58,72.29 L197.71,72.35 L197.84,72.42 L197.97,72.50 L198.10,72.59 L198.23,72.69 L198.35,72.79 L198.46,72.90 L198.57,73.01 L198.66,73.12 L198.73,73.23 L198.79,73.33 L198.84,73.43 L198.87,73.52 L198.89,73.60 L198.91,73.68 L198.93,73.77 L198.94,73.87 L198.94,73.98 L198.94,74.11 L198.93,74.25 L198.90,74.42 L198.88,74.60 L198.84,74.80 L198.79,75.01 L198.74,75.25 L198.68,75.50 L198.61,75.76 L198.55,76.03 L198.48,76.31 L198.40,76.61 L198.30,76.93 L198.20,77.28 L198.08,77.64 L197.96,78.01 L197.83,78.38 L197.70,78.76 L197.57,79.14 L197.44,79.51 L197.31,79.88 L197.19,80.23 L197.07,80.57 L196.97,80.88 L196.89,81.16 L196.80,81.43 L196.71,81.70 L196.62,81.97 L196.52,82.24 L196.43,82.50 L196.34,82.76 L196.25,83.02 L196.17,83.28 L196.09,83.54 L196.03,83.80 L195.98,84.06 L195.95,84.33 L195.93,84.60 L195.95,84.86 L195.99,85.12 L196.05,85.35 L196.13,85.58 L196.23,85.79 L196.34,85.98 L196.46,86.16 L196.59,86.32 L196.73,86.46 L196.88,86.59 L197.03,86.71 L197.19,86.80 L197.35,86.89 L197.52,86.96 L197.71,87.01 L197.90,87.05 L198.08,87.06 L198.27,87.05 L198.45,87.03 L198.63,87.00 L198.80,86.96 L198.98,86.90 L199.15,86.83 L199.31,86.76 L199.48,86.67 L199.64,86.58 L199.79,86.47 L199.95,86.36 L200.10,86.25 L200.26,86.12 L200.41,85.98 L200.56,85.83 L200.70,85.67 L200.85,85.50 L200.99,85.33 L201.13,85.16 L201.26,84.98 L201.40,84.80 L201.53,84.63 L201.65,84.45 L201.77,84.27 L201.89,84.10 L202.01,83.93 L202.12,83.75 L202.22,83.56 L202.33,83.38 L202.42,83.20 L202.52,83.01 L202.61,82.83 L202.70,82.64 L202.79,82.46 L202.88,82.28 L202.97,82.09 L203.05,81.92 L203.14,81.74 L203.23,81.56 L202.53,81.18 L202.43,81.36 L202.33,81.54 L202.23,81.72 L202.14,81.90 L202.04,82.08 L201.95,82.26 L201.85,82.44 L201.76,82.61 L201.66,82.78 L201.57,82.95 L201.47,83.12 L201.37,83.28 L201.26,83.43 L201.15,83.59 L201.03,83.75 L200.91,83.91 L200.79,84.08 L200.66,84.24 L200.53,84.41 L200.39,84.57 L200.26,84.72 L200.13,84.87 L200.00,85.01 L199.87,85.14 L199.74,85.26 L199.62,85.37 L199.50,85.46 L199.39,85.53 L199.27,85.59 L199.15,85.64 L199.03,85.68 L198.90,85.72 L198.78,85.75 L198.67,85.77 L198.56,85.78 L198.46,85.79 L198.36,85.78 L198.28,85.77 L198.21,85.75 L198.16,85.73 L198.12,85.71 L198.10,85.68 L198.07,85.65 L198.03,85.60 L197.99,85.55 L197.96,85.49 L197.92,85.42 L197.89,85.35 L197.86,85.28 L197.83,85.20 L197.82,85.13 L197.80,85.05 L197.80,84.96 L197.80,84.88 L197.81,84.79 L197.83,84.70 L197.86,84.60 L197.89,84.47 L197.94,84.33 L198.01,84.16 L198.09,83.97 L198.18,83.77 L198.29,83.55 L198.40,83.31 L198.52,83.06 L198.64,82.80 L198.77,82.52 L198.90,82.23 L199.02,81.93 L199.15,81.62 L199.25,81.31 L199.36,80.98 L199.48,80.63 L199.61,80.27 L199.74,79.90 L199.88,79.51 L200.01,79.13 L200.14,78.74 L200.27,78.35 L200.39,77.97 L200.50,77.60 L200.61,77.24 L200.71,76.89 L200.78,76.57 L200.85,76.28 L200.91,76.00 L200.96,75.73 L201.02,75.47 L201.06,75.21 L201.11,74.95 L201.14,74.69 L201.16,74.43 L201.17,74.16 L201.17,73.90 L201.14,73.63 L201.10,73.36 L201.03,73.08 L200.94,72.81 L200.81,72.55 L200.65,72.31 L200.48,72.09 L200.29,71.89 L200.10,71.70 L199.89,71.53 L199.68,71.37 L199.46,71.23 L199.23,71.10 L199.00,70.98 L198.76,70.88 L198.53,70.79 L198.29,70.72 L198.04,70.66 L197.80,70.62 L197.55,70.59 L197.30,70.57 L197.04,70.57 L196.78,70.58 L196.52,70.60 L196.26,70.63 L196.00,70.67 L195.74,70.73 L195.49,70.79 L195.23,70.87 L194.98,70.96 L194.73,71.06 L194.49,71.17 L194.25,71.28 L194.02,71.40 L193.78,71.53 L193.55,71.68 L193.32,71.83 L193.09,72.00 L192.86,72.17 L192.63,72.35 L192.41,72.54 L192.20,72.74 L191.98,72.95 L191.77,73.17 L191.57,73.39 L191.37,73.62 L191.17,73.87 L190.98,74.13 L190.80,74.40 L190.62,74.68 L190.45,74.97 L190.28,75.27 L190.12,75.56 L189.96,75.86 L189.80,76.16 L189.65,76.46 L189.49,76.76 L189.33,77.05 L189.17,77.34 L189.01,77.62Z" fill="#000"/>
<path d="M214.9,74.65H238.1M214.9,81.45H238.1" stroke="#000" stroke-width="1.5" fill="none"/>
<text font-size="100" transform="translate(248.94,87.15) scale(0.3356,0.3616)" >4</text>
<text class="lt" x="292.7" y="84.8">(Pearcey)</text>
<line x1="117.3" y1="118.2" x2="175.5" y2="118.2" stroke="#008000" stroke-width="4.3"/>
<path d="M185.37,119.44 L185.45,119.21 L185.54,118.99 L185.62,118.76 L185.70,118.53 L185.77,118.30 L185.85,118.08 L185.93,117.85 L186.01,117.64 L186.09,117.42 L186.17,117.21 L186.25,117.02 L186.33,116.83 L186.42,116.65 L186.51,116.48 L186.60,116.32 L186.70,116.16 L186.80,116.00 L186.90,115.85 L187.00,115.70 L187.11,115.56 L187.21,115.42 L187.32,115.30 L187.42,115.18 L187.53,115.07 L187.63,114.98 L187.72,114.89 L187.82,114.81 L187.91,114.75 L188.00,114.71 L188.10,114.67 L188.19,114.63 L188.29,114.61 L188.38,114.59 L188.47,114.58 L188.55,114.57 L188.63,114.58 L188.69,114.59 L188.74,114.60 L188.78,114.62 L188.80,114.64 L188.81,114.66 L188.80,114.68 L188.80,114.70 L188.81,114.73 L188.83,114.76 L188.85,114.81 L188.88,114.86 L188.90,114.92 L188.92,114.98 L188.94,115.05 L188.96,115.13 L188.97,115.21 L188.98,115.29 L188.99,115.38 L188.99,115.47 L188.99,115.57 L188.99,115.67 L188.99,115.78 L188.98,115.91 L188.97,116.06 L188.95,116.21 L188.92,116.39 L188.89,116.58 L188.85,116.78 L188.80,117.00 L188.75,117.23 L188.70,117.48 L188.64,117.75 L188.58,118.03 L188.52,118.32 L188.46,118.62 L188.39,118.94 L188.32,119.29 L188.24,119.64 L188.16,120.02 L188.07,120.40 L187.99,120.79 L187.89,121.19 L187.80,121.59 L187.71,121.99 L187.62,122.39 L187.53,122.78 L187.44,123.17 L187.35,123.54 L187.27,123.91 L187.18,124.27 L187.10,124.64 L187.02,125.00 L186.93,125.36 L186.85,125.72 L186.76,126.08 L186.68,126.44 L186.60,126.80 L186.51,127.16 L186.43,127.52 L186.35,127.89 L186.26,128.25 L186.18,128.61 L188.42,129.13 L188.50,128.77 L188.59,128.41 L188.67,128.05 L188.75,127.69 L188.84,127.33 L188.92,126.97 L189.01,126.61 L189.09,126.24 L189.17,125.88 L189.26,125.52 L189.34,125.15 L189.43,124.79 L189.51,124.42 L189.59,124.05 L189.68,123.68 L189.77,123.30 L189.86,122.90 L189.95,122.51 L190.04,122.10 L190.14,121.70 L190.23,121.30 L190.32,120.91 L190.40,120.52 L190.49,120.14 L190.57,119.77 L190.64,119.42 L190.71,119.08 L190.78,118.76 L190.83,118.47 L190.88,118.20 L190.93,117.93 L190.98,117.68 L191.02,117.43 L191.07,117.19 L191.10,116.95 L191.14,116.72 L191.17,116.49 L191.19,116.26 L191.20,116.03 L191.20,115.80 L191.20,115.57 L191.17,115.33 L191.12,115.10 L191.06,114.88 L190.98,114.67 L190.89,114.47 L190.79,114.28 L190.69,114.10 L190.57,113.94 L190.44,113.78 L190.30,113.64 L190.16,113.51 L190.01,113.40 L189.85,113.29 L189.69,113.20 L189.51,113.13 L189.31,113.07 L189.11,113.04 L188.92,113.03 L188.73,113.04 L188.56,113.07 L188.38,113.11 L188.21,113.16 L188.05,113.23 L187.89,113.30 L187.74,113.38 L187.59,113.47 L187.45,113.57 L187.31,113.68 L187.18,113.80 L187.05,113.91 L186.92,114.04 L186.80,114.17 L186.68,114.31 L186.56,114.46 L186.44,114.61 L186.33,114.77 L186.22,114.94 L186.11,115.11 L186.01,115.28 L185.90,115.46 L185.81,115.65 L185.71,115.83 L185.62,116.02 L185.52,116.22 L185.43,116.43 L185.34,116.65 L185.26,116.87 L185.18,117.09 L185.11,117.32 L185.03,117.55 L184.96,117.78 L184.89,118.01 L184.81,118.24 L184.74,118.47 L184.67,118.69 L184.60,118.91 L184.52,119.13Z M189.79,120.62 L189.96,120.34 L190.13,120.05 L190.30,119.75 L190.46,119.46 L190.63,119.16 L190.79,118.86 L190.95,118.57 L191.12,118.29 L191.28,118.01 L191.45,117.75 L191.61,117.50 L191.78,117.26 L191.95,117.03 L192.13,116.83 L192.32,116.63 L192.51,116.44 L192.70,116.25 L192.90,116.08 L193.11,115.91 L193.31,115.75 L193.52,115.60 L193.72,115.46 L193.93,115.33 L194.14,115.21 L194.34,115.10 L194.55,115.00 L194.75,114.91 L194.94,114.83 L195.14,114.77 L195.35,114.73 L195.55,114.69 L195.76,114.66 L195.97,114.64 L196.17,114.63 L196.37,114.63 L196.57,114.63 L196.77,114.65 L196.95,114.67 L197.13,114.70 L197.29,114.74 L197.44,114.79 L197.58,114.84 L197.71,114.90 L197.84,114.97 L197.97,115.05 L198.10,115.14 L198.23,115.24 L198.35,115.34 L198.46,115.45 L198.57,115.56 L198.66,115.67 L198.73,115.78 L198.79,115.88 L198.84,115.98 L198.87,116.07 L198.89,116.15 L198.91,116.23 L198.93,116.32 L198.94,116.42 L198.94,116.53 L198.94,116.66 L198.93,116.80 L198.90,116.97 L198.88,117.15 L198.84,117.35 L198.79,117.56 L198.74,117.80 L198.68,118.05 L198.61,118.31 L198.55,118.58 L198.48,118.86 L198.40,119.16 L198.30,119.48 L198.20,119.83 L198.08,120.19 L197.96,120.56 L197.83,120.93 L197.70,121.31 L197.57,121.69 L197.44,122.06 L197.31,122.43 L197.19,122.78 L197.07,123.12 L196.97,123.43 L196.89,123.71 L196.80,123.98 L196.71,124.25 L196.62,124.52 L196.52,124.79 L196.43,125.05 L196.34,125.31 L196.25,125.57 L196.17,125.83 L196.09,126.09 L196.03,126.35 L195.98,126.61 L195.95,126.88 L195.93,127.15 L195.95,127.41 L195.99,127.67 L196.05,127.90 L196.13,128.13 L196.23,128.34 L196.34,128.53 L196.46,128.71 L196.59,128.87 L196.73,129.01 L196.88,129.14 L197.03,129.26 L197.19,129.35 L197.35,129.44 L197.52,129.51 L197.71,129.56 L197.90,129.60 L198.08,129.61 L198.27,129.60 L198.45,129.58 L198.63,129.55 L198.80,129.51 L198.98,129.45 L199.15,129.38 L199.31,129.31 L199.48,129.22 L199.64,129.13 L199.79,129.02 L199.95,128.91 L200.10,128.80 L200.26,128.67 L200.41,128.53 L200.56,128.38 L200.70,128.22 L200.85,128.05 L200.99,127.88 L201.13,127.71 L201.26,127.53 L201.40,127.35 L201.53,127.18 L201.65,127.00 L201.77,126.82 L201.89,126.65 L202.01,126.48 L202.12,126.30 L202.22,126.11 L202.33,125.93 L202.42,125.75 L202.52,125.56 L202.61,125.38 L202.70,125.19 L202.79,125.01 L202.88,124.83 L202.97,124.64 L203.05,124.47 L203.14,124.29 L203.23,124.11 L202.53,123.73 L202.43,123.91 L202.33,124.09 L202.23,124.27 L202.14,124.45 L202.04,124.63 L201.95,124.81 L201.85,124.99 L201.76,125.16 L201.66,125.33 L201.57,125.50 L201.47,125.67 L201.37,125.83 L201.26,125.98 L201.15,126.14 L201.03,126.30 L200.91,126.46 L200.79,126.63 L200.66,126.79 L200.53,126.96 L200.39,127.12 L200.26,127.27 L200.13,127.42 L200.00,127.56 L199.87,127.69 L199.74,127.81 L199.62,127.92 L199.50,128.01 L199.39,128.08 L199.27,128.14 L199.15,128.19 L199.03,128.23 L198.90,128.27 L198.78,128.30 L198.67,128.32 L198.56,128.33 L198.46,128.34 L198.36,128.33 L198.28,128.32 L198.21,128.30 L198.16,128.28 L198.12,128.26 L198.10,128.23 L198.07,128.20 L198.03,128.15 L197.99,128.10 L197.96,128.04 L197.92,127.97 L197.89,127.90 L197.86,127.83 L197.83,127.75 L197.82,127.68 L197.80,127.60 L197.80,127.51 L197.80,127.43 L197.81,127.34 L197.83,127.25 L197.86,127.15 L197.89,127.02 L197.94,126.88 L198.01,126.71 L198.09,126.52 L198.18,126.32 L198.29,126.10 L198.40,125.86 L198.52,125.61 L198.64,125.35 L198.77,125.07 L198.90,124.78 L199.02,124.48 L199.15,124.17 L199.25,123.86 L199.36,123.53 L199.48,123.18 L199.61,122.82 L199.74,122.45 L199.88,122.06 L200.01,121.68 L200.14,121.29 L200.27,120.90 L200.39,120.52 L200.50,120.15 L200.61,119.79 L200.71,119.44 L200.78,119.12 L200.85,118.83 L200.91,118.55 L200.96,118.28 L201.02,118.02 L201.06,117.76 L201.11,117.50 L201.14,117.24 L201.16,116.98 L201.17,116.71 L201.17,116.45 L201.14,116.18 L201.10,115.91 L201.03,115.63 L200.94,115.36 L200.81,115.10 L200.65,114.86 L200.48,114.64 L200.29,114.44 L200.10,114.25 L199.89,114.08 L199.68,113.92 L199.46,113.78 L199.23,113.65 L199.00,113.53 L198.76,113.43 L198.53,113.34 L198.29,113.27 L198.04,113.21 L197.80,113.17 L197.55,113.14 L197.30,113.12 L197.04,113.12 L196.78,113.13 L196.52,113.15 L196.26,113.18 L196.00,113.22 L195.74,113.28 L195.49,113.34 L195.23,113.42 L194.98,113.51 L194.73,113.61 L194.49,113.72 L194.25,113.83 L194.02,113.95 L193.78,114.08 L193.55,114.23 L193.32,114.38 L193.09,114.55 L192.86,114.72 L192.63,114.90 L192.41,115.09 L192.20,115.29 L191.98,115.50 L191.77,115.72 L191.57,115.94 L191.37,116.17 L191.17,116.42 L190.98,116.68 L190.80,116.95 L190.62,117.23 L190.45,117.52 L190.28,117.82 L190.12,118.11 L189.96,118.41 L189.80,118.71 L189.65,119.01 L189.49,119.31 L189.33,119.60 L189.17,119.89 L189.01,120.17Z" fill="#000"/>
<path d="M214.9,117.20H238.1M214.9,124.00H238.1" stroke="#000" stroke-width="1.5" fill="none"/>
<text font-size="100" transform="translate(248.18,129.74) scale(0.3475,0.3642)" >5</text>
<text class="lt" x="292.7" y="126.0" textLength="177.2" lengthAdjust="spacingAndGlyphs">(Swallowtail)</text>
<line x1="117.3" y1="160.6" x2="175.5" y2="160.6" stroke="#ffd133" stroke-width="4.3"/>
<path d="M185.37,161.99 L185.45,161.76 L185.54,161.54 L185.62,161.31 L185.70,161.08 L185.77,160.85 L185.85,160.63 L185.93,160.40 L186.01,160.19 L186.09,159.97 L186.17,159.76 L186.25,159.57 L186.33,159.38 L186.42,159.20 L186.51,159.03 L186.60,158.87 L186.70,158.71 L186.80,158.55 L186.90,158.40 L187.00,158.25 L187.11,158.11 L187.21,157.97 L187.32,157.85 L187.42,157.73 L187.53,157.62 L187.63,157.53 L187.72,157.44 L187.82,157.36 L187.91,157.30 L188.00,157.26 L188.10,157.22 L188.19,157.18 L188.29,157.16 L188.38,157.14 L188.47,157.13 L188.55,157.12 L188.63,157.13 L188.69,157.14 L188.74,157.15 L188.78,157.17 L188.80,157.19 L188.81,157.21 L188.80,157.23 L188.80,157.25 L188.81,157.28 L188.83,157.31 L188.85,157.36 L188.88,157.41 L188.90,157.47 L188.92,157.53 L188.94,157.60 L188.96,157.68 L188.97,157.76 L188.98,157.84 L188.99,157.93 L188.99,158.02 L188.99,158.12 L188.99,158.22 L188.99,158.33 L188.98,158.46 L188.97,158.61 L188.95,158.76 L188.92,158.94 L188.89,159.13 L188.85,159.33 L188.80,159.55 L188.75,159.78 L188.70,160.03 L188.64,160.30 L188.58,160.58 L188.52,160.87 L188.46,161.17 L188.39,161.49 L188.32,161.84 L188.24,162.19 L188.16,162.57 L188.07,162.95 L187.99,163.34 L187.89,163.74 L187.80,164.14 L187.71,164.54 L187.62,164.94 L187.53,165.33 L187.44,165.72 L187.35,166.09 L187.27,166.46 L187.18,166.82 L187.10,167.19 L187.02,167.55 L186.93,167.91 L186.85,168.27 L186.76,168.63 L186.68,168.99 L186.60,169.35 L186.51,169.71 L186.43,170.07 L186.35,170.44 L186.26,170.80 L186.18,171.16 L188.42,171.68 L188.50,171.32 L188.59,170.96 L188.67,170.60 L188.75,170.24 L188.84,169.88 L188.92,169.52 L189.01,169.16 L189.09,168.79 L189.17,168.43 L189.26,168.07 L189.34,167.70 L189.43,167.34 L189.51,166.97 L189.59,166.60 L189.68,166.23 L189.77,165.85 L189.86,165.45 L189.95,165.06 L190.04,164.65 L190.14,164.25 L190.23,163.85 L190.32,163.46 L190.40,163.07 L190.49,162.69 L190.57,162.32 L190.64,161.97 L190.71,161.63 L190.78,161.31 L190.83,161.02 L190.88,160.75 L190.93,160.48 L190.98,160.23 L191.02,159.98 L191.07,159.74 L191.10,159.50 L191.14,159.27 L191.17,159.04 L191.19,158.81 L191.20,158.58 L191.20,158.35 L191.20,158.12 L191.17,157.88 L191.12,157.65 L191.06,157.43 L190.98,157.22 L190.89,157.02 L190.79,156.83 L190.69,156.65 L190.57,156.49 L190.44,156.33 L190.30,156.19 L190.16,156.06 L190.01,155.95 L189.85,155.84 L189.69,155.75 L189.51,155.68 L189.31,155.62 L189.11,155.59 L188.92,155.58 L188.73,155.59 L188.56,155.62 L188.38,155.66 L188.21,155.71 L188.05,155.78 L187.89,155.85 L187.74,155.93 L187.59,156.02 L187.45,156.12 L187.31,156.23 L187.18,156.35 L187.05,156.46 L186.92,156.59 L186.80,156.72 L186.68,156.86 L186.56,157.01 L186.44,157.16 L186.33,157.32 L186.22,157.49 L186.11,157.66 L186.01,157.83 L185.90,158.01 L185.81,158.20 L185.71,158.38 L185.62,158.57 L185.52,158.77 L185.43,158.98 L185.34,159.20 L185.26,159.42 L185.18,159.64 L185.11,159.87 L185.03,160.10 L184.96,160.33 L184.89,160.56 L184.81,160.79 L184.74,161.02 L184.67,161.24 L184.60,161.46 L184.52,161.68Z M189.79,163.17 L189.96,162.89 L190.13,162.60 L190.30,162.30 L190.46,162.01 L190.63,161.71 L190.79,161.41 L190.95,161.12 L191.12,160.84 L191.28,160.56 L191.45,160.30 L191.61,160.05 L191.78,159.81 L191.95,159.58 L192.13,159.38 L192.32,159.18 L192.51,158.99 L192.70,158.80 L192.90,158.63 L193.11,158.46 L193.31,158.30 L193.52,158.15 L193.72,158.01 L193.93,157.88 L194.14,157.76 L194.34,157.65 L194.55,157.55 L194.75,157.46 L194.94,157.38 L195.14,157.32 L195.35,157.28 L195.55,157.24 L195.76,157.21 L195.97,157.19 L196.17,157.18 L196.37,157.18 L196.57,157.18 L196.77,157.20 L196.95,157.22 L197.13,157.25 L197.29,157.29 L197.44,157.34 L197.58,157.39 L197.71,157.45 L197.84,157.52 L197.97,157.60 L198.10,157.69 L198.23,157.79 L198.35,157.89 L198.46,158.00 L198.57,158.11 L198.66,158.22 L198.73,158.33 L198.79,158.43 L198.84,158.53 L198.87,158.62 L198.89,158.70 L198.91,158.78 L198.93,158.87 L198.94,158.97 L198.94,159.08 L198.94,159.21 L198.93,159.35 L198.90,159.52 L198.88,159.70 L198.84,159.90 L198.79,160.11 L198.74,160.35 L198.68,160.60 L198.61,160.86 L198.55,161.13 L198.48,161.41 L198.40,161.71 L198.30,162.03 L198.20,162.38 L198.08,162.74 L197.96,163.11 L197.83,163.48 L197.70,163.86 L197.57,164.24 L197.44,164.61 L197.31,164.98 L197.19,165.33 L197.07,165.67 L196.97,165.98 L196.89,166.26 L196.80,166.53 L196.71,166.80 L196.62,167.07 L196.52,167.34 L196.43,167.60 L196.34,167.86 L196.25,168.12 L196.17,168.38 L196.09,168.64 L196.03,168.90 L195.98,169.16 L195.95,169.43 L195.93,169.70 L195.95,169.96 L195.99,170.22 L196.05,170.45 L196.13,170.68 L196.23,170.89 L196.34,171.08 L196.46,171.26 L196.59,171.42 L196.73,171.56 L196.88,171.69 L197.03,171.81 L197.19,171.90 L197.35,171.99 L197.52,172.06 L197.71,172.11 L197.90,172.15 L198.08,172.16 L198.27,172.15 L198.45,172.13 L198.63,172.10 L198.80,172.06 L198.98,172.00 L199.15,171.93 L199.31,171.86 L199.48,171.77 L199.64,171.68 L199.79,171.57 L199.95,171.46 L200.10,171.35 L200.26,171.22 L200.41,171.08 L200.56,170.93 L200.70,170.77 L200.85,170.60 L200.99,170.43 L201.13,170.26 L201.26,170.08 L201.40,169.90 L201.53,169.73 L201.65,169.55 L201.77,169.37 L201.89,169.20 L202.01,169.03 L202.12,168.85 L202.22,168.66 L202.33,168.48 L202.42,168.30 L202.52,168.11 L202.61,167.93 L202.70,167.74 L202.79,167.56 L202.88,167.38 L202.97,167.19 L203.05,167.02 L203.14,166.84 L203.23,166.66 L202.53,166.28 L202.43,166.46 L202.33,166.64 L202.23,166.82 L202.14,167.00 L202.04,167.18 L201.95,167.36 L201.85,167.54 L201.76,167.71 L201.66,167.88 L201.57,168.05 L201.47,168.22 L201.37,168.38 L201.26,168.53 L201.15,168.69 L201.03,168.85 L200.91,169.01 L200.79,169.18 L200.66,169.34 L200.53,169.51 L200.39,169.67 L200.26,169.82 L200.13,169.97 L200.00,170.11 L199.87,170.24 L199.74,170.36 L199.62,170.47 L199.50,170.56 L199.39,170.63 L199.27,170.69 L199.15,170.74 L199.03,170.78 L198.90,170.82 L198.78,170.85 L198.67,170.87 L198.56,170.88 L198.46,170.89 L198.36,170.88 L198.28,170.87 L198.21,170.85 L198.16,170.83 L198.12,170.81 L198.10,170.78 L198.07,170.75 L198.03,170.70 L197.99,170.65 L197.96,170.59 L197.92,170.52 L197.89,170.45 L197.86,170.38 L197.83,170.30 L197.82,170.23 L197.80,170.15 L197.80,170.06 L197.80,169.98 L197.81,169.89 L197.83,169.80 L197.86,169.70 L197.89,169.57 L197.94,169.43 L198.01,169.26 L198.09,169.07 L198.18,168.87 L198.29,168.65 L198.40,168.41 L198.52,168.16 L198.64,167.90 L198.77,167.62 L198.90,167.33 L199.02,167.03 L199.15,166.72 L199.25,166.41 L199.36,166.08 L199.48,165.73 L199.61,165.37 L199.74,165.00 L199.88,164.61 L200.01,164.23 L200.14,163.84 L200.27,163.45 L200.39,163.07 L200.50,162.70 L200.61,162.34 L200.71,161.99 L200.78,161.67 L200.85,161.38 L200.91,161.10 L200.96,160.83 L201.02,160.57 L201.06,160.31 L201.11,160.05 L201.14,159.79 L201.16,159.53 L201.17,159.26 L201.17,159.00 L201.14,158.73 L201.10,158.46 L201.03,158.18 L200.94,157.91 L200.81,157.65 L200.65,157.41 L200.48,157.19 L200.29,156.99 L200.10,156.80 L199.89,156.63 L199.68,156.47 L199.46,156.33 L199.23,156.20 L199.00,156.08 L198.76,155.98 L198.53,155.89 L198.29,155.82 L198.04,155.76 L197.80,155.72 L197.55,155.69 L197.30,155.67 L197.04,155.67 L196.78,155.68 L196.52,155.70 L196.26,155.73 L196.00,155.77 L195.74,155.83 L195.49,155.89 L195.23,155.97 L194.98,156.06 L194.73,156.16 L194.49,156.27 L194.25,156.38 L194.02,156.50 L193.78,156.63 L193.55,156.78 L193.32,156.93 L193.09,157.10 L192.86,157.27 L192.63,157.45 L192.41,157.64 L192.20,157.84 L191.98,158.05 L191.77,158.27 L191.57,158.49 L191.37,158.72 L191.17,158.97 L190.98,159.23 L190.80,159.50 L190.62,159.78 L190.45,160.07 L190.28,160.37 L190.12,160.66 L189.96,160.96 L189.80,161.26 L189.65,161.56 L189.49,161.86 L189.33,162.15 L189.17,162.44 L189.01,162.72Z" fill="#000"/>
<path d="M214.9,159.75H238.1M214.9,166.55H238.1" stroke="#000" stroke-width="1.5" fill="none"/>
<text font-size="100" transform="translate(248.76,172.30) scale(0.3347,0.3602)" >6</text>
<line x1="117.3" y1="203.2" x2="175.5" y2="203.2" stroke="#7fb3fc" stroke-width="4.3"/>
<path d="M185.37,204.54 L185.45,204.31 L185.54,204.09 L185.62,203.86 L185.70,203.63 L185.77,203.40 L185.85,203.18 L185.93,202.95 L186.01,202.74 L186.09,202.52 L186.17,202.31 L186.25,202.12 L186.33,201.93 L186.42,201.75 L186.51,201.58 L186.60,201.42 L186.70,201.26 L186.80,201.10 L186.90,200.95 L187.00,200.80 L187.11,200.66 L187.21,200.52 L187.32,200.40 L187.42,200.28 L187.53,200.17 L187.63,200.08 L187.72,199.99 L187.82,199.91 L187.91,199.85 L188.00,199.81 L188.10,199.77 L188.19,199.73 L188.29,199.71 L188.38,199.69 L188.47,199.68 L188.55,199.67 L188.63,199.68 L188.69,199.69 L188.74,199.70 L188.78,199.72 L188.80,199.74 L188.81,199.76 L188.80,199.78 L188.80,199.80 L188.81,199.83 L188.83,199.86 L188.85,199.91 L188.88,199.96 L188.90,200.02 L188.92,200.08 L188.94,200.15 L188.96,200.23 L188.97,200.31 L188.98,200.39 L188.99,200.48 L188.99,200.57 L188.99,200.67 L188.99,200.77 L188.99,200.88 L188.98,201.01 L188.97,201.16 L188.95,201.31 L188.92,201.49 L188.89,201.68 L188.85,201.88 L188.80,202.10 L188.75,202.33 L188.70,202.58 L188.64,202.85 L188.58,203.13 L188.52,203.42 L188.46,203.72 L188.39,204.04 L188.32,204.39 L188.24,204.74 L188.16,205.12 L188.07,205.50 L187.99,205.89 L187.89,206.29 L187.80,206.69 L187.71,207.09 L187.62,207.49 L187.53,207.88 L187.44,208.27 L187.35,208.64 L187.27,209.01 L187.18,209.37 L187.10,209.74 L187.02,210.10 L186.93,210.46 L186.85,210.82 L186.76,211.18 L186.68,211.54 L186.60,211.90 L186.51,212.26 L186.43,212.62 L186.35,212.99 L186.26,213.35 L186.18,213.71 L188.42,214.23 L188.50,213.87 L188.59,213.51 L188.67,213.15 L188.75,212.79 L188.84,212.43 L188.92,212.07 L189.01,211.71 L189.09,211.34 L189.17,210.98 L189.26,210.62 L189.34,210.25 L189.43,209.89 L189.51,209.52 L189.59,209.15 L189.68,208.78 L189.77,208.40 L189.86,208.00 L189.95,207.61 L190.04,207.20 L190.14,206.80 L190.23,206.40 L190.32,206.01 L190.40,205.62 L190.49,205.24 L190.57,204.87 L190.64,204.52 L190.71,204.18 L190.78,203.86 L190.83,203.57 L190.88,203.30 L190.93,203.03 L190.98,202.78 L191.02,202.53 L191.07,202.29 L191.10,202.05 L191.14,201.82 L191.17,201.59 L191.19,201.36 L191.20,201.13 L191.20,200.90 L191.20,200.67 L191.17,200.43 L191.12,200.20 L191.06,199.98 L190.98,199.77 L190.89,199.57 L190.79,199.38 L190.69,199.20 L190.57,199.04 L190.44,198.88 L190.30,198.74 L190.16,198.61 L190.01,198.50 L189.85,198.39 L189.69,198.30 L189.51,198.23 L189.31,198.17 L189.11,198.14 L188.92,198.13 L188.73,198.14 L188.56,198.17 L188.38,198.21 L188.21,198.26 L188.05,198.33 L187.89,198.40 L187.74,198.48 L187.59,198.57 L187.45,198.67 L187.31,198.78 L187.18,198.90 L187.05,199.01 L186.92,199.14 L186.80,199.27 L186.68,199.41 L186.56,199.56 L186.44,199.71 L186.33,199.87 L186.22,200.04 L186.11,200.21 L186.01,200.38 L185.90,200.56 L185.81,200.75 L185.71,200.93 L185.62,201.12 L185.52,201.32 L185.43,201.53 L185.34,201.75 L185.26,201.97 L185.18,202.19 L185.11,202.42 L185.03,202.65 L184.96,202.88 L184.89,203.11 L184.81,203.34 L184.74,203.57 L184.67,203.79 L184.60,204.01 L184.52,204.23Z M189.79,205.72 L189.96,205.44 L190.13,205.15 L190.30,204.85 L190.46,204.56 L190.63,204.26 L190.79,203.96 L190.95,203.67 L191.12,203.39 L191.28,203.11 L191.45,202.85 L191.61,202.60 L191.78,202.36 L191.95,202.13 L192.13,201.93 L192.32,201.73 L192.51,201.54 L192.70,201.35 L192.90,201.18 L193.11,201.01 L193.31,200.85 L193.52,200.70 L193.72,200.56 L193.93,200.43 L194.14,200.31 L194.34,200.20 L194.55,200.10 L194.75,200.01 L194.94,199.93 L195.14,199.87 L195.35,199.83 L195.55,199.79 L195.76,199.76 L195.97,199.74 L196.17,199.73 L196.37,199.73 L196.57,199.73 L196.77,199.75 L196.95,199.77 L197.13,199.80 L197.29,199.84 L197.44,199.89 L197.58,199.94 L197.71,200.00 L197.84,200.07 L197.97,200.15 L198.10,200.24 L198.23,200.34 L198.35,200.44 L198.46,200.55 L198.57,200.66 L198.66,200.77 L198.73,200.88 L198.79,200.98 L198.84,201.08 L198.87,201.17 L198.89,201.25 L198.91,201.33 L198.93,201.42 L198.94,201.52 L198.94,201.63 L198.94,201.76 L198.93,201.90 L198.90,202.07 L198.88,202.25 L198.84,202.45 L198.79,202.66 L198.74,202.90 L198.68,203.15 L198.61,203.41 L198.55,203.68 L198.48,203.96 L198.40,204.26 L198.30,204.58 L198.20,204.93 L198.08,205.29 L197.96,205.66 L197.83,206.03 L197.70,206.41 L197.57,206.79 L197.44,207.16 L197.31,207.53 L197.19,207.88 L197.07,208.22 L196.97,208.53 L196.89,208.81 L196.80,209.08 L196.71,209.35 L196.62,209.62 L196.52,209.89 L196.43,210.15 L196.34,210.41 L196.25,210.67 L196.17,210.93 L196.09,211.19 L196.03,211.45 L195.98,211.71 L195.95,211.98 L195.93,212.25 L195.95,212.51 L195.99,212.77 L196.05,213.00 L196.13,213.23 L196.23,213.44 L196.34,213.63 L196.46,213.81 L196.59,213.97 L196.73,214.11 L196.88,214.24 L197.03,214.36 L197.19,214.45 L197.35,214.54 L197.52,214.61 L197.71,214.66 L197.90,214.70 L198.08,214.71 L198.27,214.70 L198.45,214.68 L198.63,214.65 L198.80,214.61 L198.98,214.55 L199.15,214.48 L199.31,214.41 L199.48,214.32 L199.64,214.23 L199.79,214.12 L199.95,214.01 L200.10,213.90 L200.26,213.77 L200.41,213.63 L200.56,213.48 L200.70,213.32 L200.85,213.15 L200.99,212.98 L201.13,212.81 L201.26,212.63 L201.40,212.45 L201.53,212.28 L201.65,212.10 L201.77,211.92 L201.89,211.75 L202.01,211.58 L202.12,211.40 L202.22,211.21 L202.33,211.03 L202.42,210.85 L202.52,210.66 L202.61,210.48 L202.70,210.29 L202.79,210.11 L202.88,209.93 L202.97,209.74 L203.05,209.57 L203.14,209.39 L203.23,209.21 L202.53,208.83 L202.43,209.01 L202.33,209.19 L202.23,209.37 L202.14,209.55 L202.04,209.73 L201.95,209.91 L201.85,210.09 L201.76,210.26 L201.66,210.43 L201.57,210.60 L201.47,210.77 L201.37,210.93 L201.26,211.08 L201.15,211.24 L201.03,211.40 L200.91,211.56 L200.79,211.73 L200.66,211.89 L200.53,212.06 L200.39,212.22 L200.26,212.37 L200.13,212.52 L200.00,212.66 L199.87,212.79 L199.74,212.91 L199.62,213.02 L199.50,213.11 L199.39,213.18 L199.27,213.24 L199.15,213.29 L199.03,213.33 L198.90,213.37 L198.78,213.40 L198.67,213.42 L198.56,213.43 L198.46,213.44 L198.36,213.43 L198.28,213.42 L198.21,213.40 L198.16,213.38 L198.12,213.36 L198.10,213.33 L198.07,213.30 L198.03,213.25 L197.99,213.20 L197.96,213.14 L197.92,213.07 L197.89,213.00 L197.86,212.93 L197.83,212.85 L197.82,212.78 L197.80,212.70 L197.80,212.61 L197.80,212.53 L197.81,212.44 L197.83,212.35 L197.86,212.25 L197.89,212.12 L197.94,211.98 L198.01,211.81 L198.09,211.62 L198.18,211.42 L198.29,211.20 L198.40,210.96 L198.52,210.71 L198.64,210.45 L198.77,210.17 L198.90,209.88 L199.02,209.58 L199.15,209.27 L199.25,208.96 L199.36,208.63 L199.48,208.28 L199.61,207.92 L199.74,207.55 L199.88,207.16 L200.01,206.78 L200.14,206.39 L200.27,206.00 L200.39,205.62 L200.50,205.25 L200.61,204.89 L200.71,204.54 L200.78,204.22 L200.85,203.93 L200.91,203.65 L200.96,203.38 L201.02,203.12 L201.06,202.86 L201.11,202.60 L201.14,202.34 L201.16,202.08 L201.17,201.81 L201.17,201.55 L201.14,201.28 L201.10,201.01 L201.03,200.73 L200.94,200.46 L200.81,200.20 L200.65,199.96 L200.48,199.74 L200.29,199.54 L200.10,199.35 L199.89,199.18 L199.68,199.02 L199.46,198.88 L199.23,198.75 L199.00,198.63 L198.76,198.53 L198.53,198.44 L198.29,198.37 L198.04,198.31 L197.80,198.27 L197.55,198.24 L197.30,198.22 L197.04,198.22 L196.78,198.23 L196.52,198.25 L196.26,198.28 L196.00,198.32 L195.74,198.38 L195.49,198.44 L195.23,198.52 L194.98,198.61 L194.73,198.71 L194.49,198.82 L194.25,198.93 L194.02,199.05 L193.78,199.18 L193.55,199.33 L193.32,199.48 L193.09,199.65 L192.86,199.82 L192.63,200.00 L192.41,200.19 L192.20,200.39 L191.98,200.60 L191.77,200.82 L191.57,201.04 L191.37,201.27 L191.17,201.52 L190.98,201.78 L190.80,202.05 L190.62,202.33 L190.45,202.62 L190.28,202.92 L190.12,203.21 L189.96,203.51 L189.80,203.81 L189.65,204.11 L189.49,204.41 L189.33,204.70 L189.17,204.99 L189.01,205.27Z" fill="#000"/>
<path d="M214.9,202.30H238.1M214.9,209.10H238.1" stroke="#000" stroke-width="1.5" fill="none"/>
<text font-size="100" transform="translate(247.76,214.80) scale(0.3701,0.3635)" >7</text>
<line x1="117.3" y1="245.7" x2="175.5" y2="245.7" stroke="#ba5cd5" stroke-width="4.3"/>
<path d="M185.37,244.44 L185.45,244.21 L185.54,243.99 L185.62,243.76 L185.70,243.53 L185.77,243.30 L185.85,243.08 L185.93,242.85 L186.01,242.64 L186.09,242.42 L186.17,242.21 L186.25,242.02 L186.33,241.83 L186.42,241.65 L186.51,241.48 L186.60,241.32 L186.70,241.16 L186.80,241.00 L186.90,240.85 L187.00,240.70 L187.11,240.56 L187.21,240.42 L187.32,240.30 L187.42,240.18 L187.53,240.07 L187.63,239.98 L187.72,239.89 L187.82,239.81 L187.91,239.75 L188.00,239.71 L188.10,239.67 L188.19,239.63 L188.29,239.61 L188.38,239.59 L188.47,239.58 L188.55,239.57 L188.63,239.58 L188.69,239.59 L188.74,239.60 L188.78,239.62 L188.80,239.64 L188.81,239.66 L188.80,239.68 L188.80,239.70 L188.81,239.73 L188.83,239.76 L188.85,239.81 L188.88,239.86 L188.90,239.92 L188.92,239.98 L188.94,240.05 L188.96,240.13 L188.97,240.21 L188.98,240.29 L188.99,240.38 L188.99,240.47 L188.99,240.57 L188.99,240.67 L188.99,240.78 L188.98,240.91 L188.97,241.06 L188.95,241.21 L188.92,241.39 L188.89,241.58 L188.85,241.78 L188.80,242.00 L188.75,242.23 L188.70,242.48 L188.64,242.75 L188.58,243.03 L188.52,243.32 L188.46,243.62 L188.39,243.94 L188.32,244.29 L188.24,244.64 L188.16,245.02 L188.07,245.40 L187.99,245.79 L187.89,246.19 L187.80,246.59 L187.71,246.99 L187.62,247.39 L187.53,247.78 L187.44,248.17 L187.35,248.54 L187.27,248.91 L187.18,249.27 L187.10,249.64 L187.02,250.00 L186.93,250.36 L186.85,250.72 L186.76,251.08 L186.68,251.44 L186.60,251.80 L186.51,252.16 L186.43,252.52 L186.35,252.89 L186.26,253.25 L186.18,253.61 L188.42,254.13 L188.50,253.77 L188.59,253.41 L188.67,253.05 L188.75,252.69 L188.84,252.33 L188.92,251.97 L189.01,251.61 L189.09,251.24 L189.17,250.88 L189.26,250.52 L189.34,250.15 L189.43,249.79 L189.51,249.42 L189.59,249.05 L189.68,248.68 L189.77,248.30 L189.86,247.90 L189.95,247.51 L190.04,247.10 L190.14,246.70 L190.23,246.30 L190.32,245.91 L190.40,245.52 L190.49,245.14 L190.57,244.77 L190.64,244.42 L190.71,244.08 L190.78,243.76 L190.83,243.47 L190.88,243.20 L190.93,242.93 L190.98,242.68 L191.02,242.43 L191.07,242.19 L191.10,241.95 L191.14,241.72 L191.17,241.49 L191.19,241.26 L191.20,241.03 L191.20,240.80 L191.20,240.57 L191.17,240.33 L191.12,240.10 L191.06,239.88 L190.98,239.67 L190.89,239.47 L190.79,239.28 L190.69,239.10 L190.57,238.94 L190.44,238.78 L190.30,238.64 L190.16,238.51 L190.01,238.40 L189.85,238.29 L189.69,238.20 L189.51,238.13 L189.31,238.07 L189.11,238.04 L188.92,238.03 L188.73,238.04 L188.56,238.07 L188.38,238.11 L188.21,238.16 L188.05,238.23 L187.89,238.30 L187.74,238.38 L187.59,238.47 L187.45,238.57 L187.31,238.68 L187.18,238.80 L187.05,238.91 L186.92,239.04 L186.80,239.17 L186.68,239.31 L186.56,239.46 L186.44,239.61 L186.33,239.77 L186.22,239.94 L186.11,240.11 L186.01,240.28 L185.90,240.46 L185.81,240.65 L185.71,240.83 L185.62,241.02 L185.52,241.22 L185.43,241.43 L185.34,241.65 L185.26,241.87 L185.18,242.09 L185.11,242.32 L185.03,242.55 L184.96,242.78 L184.89,243.01 L184.81,243.24 L184.74,243.47 L184.67,243.69 L184.60,243.91 L184.52,244.13Z M189.79,245.62 L189.96,245.34 L190.13,245.05 L190.30,244.75 L190.46,244.46 L190.63,244.16 L190.79,243.86 L190.95,243.57 L191.12,243.29 L191.28,243.01 L191.45,242.75 L191.61,242.50 L191.78,242.26 L191.95,242.03 L192.13,241.83 L192.32,241.63 L192.51,241.44 L192.70,241.25 L192.90,241.08 L193.11,240.91 L193.31,240.75 L193.52,240.60 L193.72,240.46 L193.93,240.33 L194.14,240.21 L194.34,240.10 L194.55,240.00 L194.75,239.91 L194.94,239.83 L195.14,239.77 L195.35,239.73 L195.55,239.69 L195.76,239.66 L195.97,239.64 L196.17,239.63 L196.37,239.63 L196.57,239.63 L196.77,239.65 L196.95,239.67 L197.13,239.70 L197.29,239.74 L197.44,239.79 L197.58,239.84 L197.71,239.90 L197.84,239.97 L197.97,240.05 L198.10,240.14 L198.23,240.24 L198.35,240.34 L198.46,240.45 L198.57,240.56 L198.66,240.67 L198.73,240.78 L198.79,240.88 L198.84,240.98 L198.87,241.07 L198.89,241.15 L198.91,241.23 L198.93,241.32 L198.94,241.42 L198.94,241.53 L198.94,241.66 L198.93,241.80 L198.90,241.97 L198.88,242.15 L198.84,242.35 L198.79,242.56 L198.74,242.80 L198.68,243.05 L198.61,243.31 L198.55,243.58 L198.48,243.86 L198.40,244.16 L198.30,244.48 L198.20,244.83 L198.08,245.19 L197.96,245.56 L197.83,245.93 L197.70,246.31 L197.57,246.69 L197.44,247.06 L197.31,247.43 L197.19,247.78 L197.07,248.12 L196.97,248.43 L196.89,248.71 L196.80,248.98 L196.71,249.25 L196.62,249.52 L196.52,249.79 L196.43,250.05 L196.34,250.31 L196.25,250.57 L196.17,250.83 L196.09,251.09 L196.03,251.35 L195.98,251.61 L195.95,251.88 L195.93,252.15 L195.95,252.41 L195.99,252.67 L196.05,252.90 L196.13,253.13 L196.23,253.34 L196.34,253.53 L196.46,253.71 L196.59,253.87 L196.73,254.01 L196.88,254.14 L197.03,254.26 L197.19,254.35 L197.35,254.44 L197.52,254.51 L197.71,254.56 L197.90,254.60 L198.08,254.61 L198.27,254.60 L198.45,254.58 L198.63,254.55 L198.80,254.51 L198.98,254.45 L199.15,254.38 L199.31,254.31 L199.48,254.22 L199.64,254.13 L199.79,254.02 L199.95,253.91 L200.10,253.80 L200.26,253.67 L200.41,253.53 L200.56,253.38 L200.70,253.22 L200.85,253.05 L200.99,252.88 L201.13,252.71 L201.26,252.53 L201.40,252.35 L201.53,252.18 L201.65,252.00 L201.77,251.82 L201.89,251.65 L202.01,251.48 L202.12,251.30 L202.22,251.11 L202.33,250.93 L202.42,250.75 L202.52,250.56 L202.61,250.38 L202.70,250.19 L202.79,250.01 L202.88,249.83 L202.97,249.64 L203.05,249.47 L203.14,249.29 L203.23,249.11 L202.53,248.73 L202.43,248.91 L202.33,249.09 L202.23,249.27 L202.14,249.45 L202.04,249.63 L201.95,249.81 L201.85,249.99 L201.76,250.16 L201.66,250.33 L201.57,250.50 L201.47,250.67 L201.37,250.83 L201.26,250.98 L201.15,251.14 L201.03,251.30 L200.91,251.46 L200.79,251.63 L200.66,251.79 L200.53,251.96 L200.39,252.12 L200.26,252.27 L200.13,252.42 L200.00,252.56 L199.87,252.69 L199.74,252.81 L199.62,252.92 L199.50,253.01 L199.39,253.08 L199.27,253.14 L199.15,253.19 L199.03,253.23 L198.90,253.27 L198.78,253.30 L198.67,253.32 L198.56,253.33 L198.46,253.34 L198.36,253.33 L198.28,253.32 L198.21,253.30 L198.16,253.28 L198.12,253.26 L198.10,253.23 L198.07,253.20 L198.03,253.15 L197.99,253.10 L197.96,253.04 L197.92,252.97 L197.89,252.90 L197.86,252.83 L197.83,252.75 L197.82,252.68 L197.80,252.60 L197.80,252.51 L197.80,252.43 L197.81,252.34 L197.83,252.25 L197.86,252.15 L197.89,252.02 L197.94,251.88 L198.01,251.71 L198.09,251.52 L198.18,251.32 L198.29,251.10 L198.40,250.86 L198.52,250.61 L198.64,250.35 L198.77,250.07 L198.90,249.78 L199.02,249.48 L199.15,249.17 L199.25,248.86 L199.36,248.53 L199.48,248.18 L199.61,247.82 L199.74,247.45 L199.88,247.06 L200.01,246.68 L200.14,246.29 L200.27,245.90 L200.39,245.52 L200.50,245.15 L200.61,244.79 L200.71,244.44 L200.78,244.12 L200.85,243.83 L200.91,243.55 L200.96,243.28 L201.02,243.02 L201.06,242.76 L201.11,242.50 L201.14,242.24 L201.16,241.98 L201.17,241.71 L201.17,241.45 L201.14,241.18 L201.10,240.91 L201.03,240.63 L200.94,240.36 L200.81,240.10 L200.65,239.86 L200.48,239.64 L200.29,239.44 L200.10,239.25 L199.89,239.08 L199.68,238.92 L199.46,238.78 L199.23,238.65 L199.00,238.53 L198.76,238.43 L198.53,238.34 L198.29,238.27 L198.04,238.21 L197.80,238.17 L197.55,238.14 L197.30,238.12 L197.04,238.12 L196.78,238.13 L196.52,238.15 L196.26,238.18 L196.00,238.22 L195.74,238.28 L195.49,238.34 L195.23,238.42 L194.98,238.51 L194.73,238.61 L194.49,238.72 L194.25,238.83 L194.02,238.95 L193.78,239.08 L193.55,239.23 L193.32,239.38 L193.09,239.55 L192.86,239.72 L192.63,239.90 L192.41,240.09 L192.20,240.29 L191.98,240.50 L191.77,240.72 L191.57,240.94 L191.37,241.17 L191.17,241.42 L190.98,241.68 L190.80,241.95 L190.62,242.23 L190.45,242.52 L190.28,242.82 L190.12,243.11 L189.96,243.41 L189.80,243.71 L189.65,244.01 L189.49,244.31 L189.33,244.60 L189.17,244.89 L189.01,245.17Z" fill="#000"/>
<path d="M215.1,245.6H245" stroke="#000" stroke-width="1.5" fill="none"/>
<path d="M237.4,236.7C238.6,241.6 241.5,244.4 245.6,245.6C241.5,246.79999999999998 238.6,249.6 237.4,254.5" stroke="#000" stroke-width="1.5" fill="none" stroke-linecap="round" stroke-linejoin="round"/>
<path d="M259.84,246.78 L259.86,246.39 L259.90,246.00 L259.97,245.60 L260.06,245.19 L260.17,244.77 L260.31,244.36 L260.45,243.95 L260.62,243.55 L260.79,243.16 L260.98,242.80 L261.18,242.45 L261.38,242.14 L261.58,241.86 L261.78,241.63 L261.99,241.42 L262.22,241.22 L262.47,241.04 L262.73,240.87 L263.01,240.72 L263.30,240.58 L263.60,240.46 L263.91,240.36 L264.21,240.27 L264.52,240.21 L264.82,240.16 L265.11,240.13 L265.38,240.12 L265.64,240.14 L265.89,240.17 L266.14,240.23 L266.39,240.31 L266.66,240.41 L266.92,240.52 L267.19,240.66 L267.47,240.82 L267.75,240.99 L268.02,241.18 L268.30,241.38 L268.58,241.60 L268.85,241.84 L269.13,242.08 L269.39,242.33 L269.64,242.58 L269.88,242.86 L270.14,243.16 L270.39,243.49 L270.65,243.85 L270.91,244.23 L271.18,244.62 L271.44,245.03 L271.71,245.44 L271.98,245.87 L272.26,246.29 L272.54,246.72 L272.83,247.14 L273.11,247.54 L273.39,247.92 L273.67,248.30 L273.94,248.69 L274.22,249.10 L274.51,249.51 L274.79,249.93 L275.08,250.35 L275.38,250.76 L275.68,251.17 L275.99,251.57 L276.31,251.96 L276.64,252.33 L276.99,252.69 L277.34,253.02 L277.69,253.30 L278.05,253.56 L278.41,253.82 L278.77,254.06 L279.14,254.28 L279.52,254.49 L279.90,254.68 L280.28,254.85 L280.68,255.00 L281.07,255.13 L281.47,255.23 L281.88,255.30 L282.28,255.35 L282.69,255.36 L283.09,255.35 L283.49,255.31 L283.90,255.24 L284.30,255.15 L284.71,255.03 L285.11,254.89 L285.50,254.73 L285.88,254.54 L286.26,254.33 L286.62,254.10 L286.96,253.85 L287.29,253.57 L287.60,253.28 L287.88,252.96 L288.14,252.62 L288.39,252.25 L288.62,251.85 L288.84,251.44 L289.05,251.00 L289.24,250.55 L289.41,250.08 L289.57,249.61 L289.70,249.13 L289.82,248.64 L289.91,248.16 L289.97,247.68 L290.01,247.21 L290.02,246.75 L290.00,246.29 L289.94,245.82 L289.86,245.35 L289.76,244.87 L289.63,244.39 L289.49,243.92 L289.32,243.45 L289.13,243.00 L288.93,242.55 L288.72,242.13 L288.49,241.73 L288.25,241.35 L287.99,241.00 L287.73,240.67 L287.44,240.38 L287.14,240.11 L286.81,239.85 L286.47,239.63 L286.12,239.42 L285.75,239.24 L285.37,239.07 L284.99,238.93 L284.61,238.82 L284.22,238.72 L283.84,238.65 L283.45,238.60 L283.08,238.58 L282.71,238.59 L282.34,238.62 L281.97,238.67 L281.60,238.76 L281.24,238.87 L280.88,239.00 L280.52,239.16 L280.16,239.33 L279.81,239.52 L279.47,239.73 L279.13,239.96 L278.79,240.20 L278.46,240.46 L278.13,240.72 L277.81,241.00 L277.49,241.31 L277.17,241.64 L276.87,242.00 L276.57,242.37 L276.28,242.76 L275.99,243.17 L275.70,243.58 L275.42,243.99 L275.14,244.41 L274.87,244.83 L274.59,245.24 L274.31,245.65 L274.04,246.04 L273.76,246.43 L273.47,246.82 L273.19,247.23 L272.91,247.64 L272.63,248.06 L272.35,248.48 L272.07,248.89 L271.80,249.30 L271.52,249.70 L271.25,250.08 L270.97,250.45 L270.69,250.80 L270.42,251.12 L270.14,251.42 L269.86,251.68 L269.56,251.93 L269.26,252.18 L268.96,252.41 L268.65,252.62 L268.34,252.82 L268.03,253.01 L267.72,253.17 L267.42,253.32 L267.11,253.45 L266.81,253.55 L266.51,253.64 L266.22,253.70 L265.94,253.75 L265.66,253.76 L265.37,253.76 L265.07,253.73 L264.76,253.68 L264.45,253.61 L264.13,253.53 L263.81,253.42 L263.50,253.29 L263.19,253.15 L262.90,252.99 L262.61,252.81 L262.35,252.62 L262.10,252.42 L261.87,252.20 L261.67,251.97 L261.47,251.72 L261.27,251.43 L261.07,251.11 L260.88,250.75 L260.71,250.38 L260.54,249.98 L260.38,249.58 L260.24,249.16 L260.12,248.74 L260.02,248.32 L259.94,247.91 L259.88,247.50 L259.85,247.12 L259.84,246.72 L258.34,246.78 L258.36,247.21 L258.41,247.69 L258.49,248.16 L258.59,248.65 L258.71,249.13 L258.86,249.60 L259.02,250.07 L259.20,250.53 L259.40,250.98 L259.62,251.41 L259.84,251.82 L260.09,252.20 L260.34,252.56 L260.61,252.89 L260.90,253.19 L261.21,253.46 L261.54,253.72 L261.89,253.95 L262.25,254.15 L262.63,254.34 L263.01,254.50 L263.39,254.63 L263.78,254.75 L264.17,254.84 L264.56,254.91 L264.95,254.95 L265.33,254.97 L265.71,254.96 L266.08,254.93 L266.45,254.87 L266.82,254.78 L267.18,254.67 L267.54,254.53 L267.90,254.37 L268.26,254.19 L268.61,253.99 L268.95,253.78 L269.29,253.55 L269.62,253.31 L269.95,253.05 L270.28,252.78 L270.60,252.50 L270.92,252.19 L271.23,251.86 L271.54,251.50 L271.84,251.13 L272.13,250.74 L272.42,250.33 L272.71,249.92 L272.99,249.51 L273.27,249.09 L273.54,248.67 L273.82,248.26 L274.09,247.85 L274.37,247.46 L274.65,247.07 L274.94,246.68 L275.22,246.27 L275.50,245.86 L275.78,245.44 L276.06,245.02 L276.34,244.61 L276.61,244.20 L276.89,243.80 L277.16,243.42 L277.44,243.05 L277.72,242.70 L277.99,242.38 L278.27,242.08 L278.55,241.82 L278.84,241.56 L279.14,241.32 L279.45,241.09 L279.75,240.87 L280.06,240.66 L280.37,240.48 L280.67,240.31 L280.98,240.15 L281.29,240.02 L281.59,239.91 L281.88,239.82 L282.18,239.75 L282.47,239.71 L282.75,239.69 L283.04,239.69 L283.34,239.71 L283.66,239.76 L283.98,239.82 L284.30,239.91 L284.62,240.01 L284.94,240.14 L285.25,240.28 L285.55,240.44 L285.84,240.61 L286.12,240.81 L286.37,241.01 L286.61,241.23 L286.82,241.46 L287.02,241.72 L287.22,242.02 L287.41,242.35 L287.60,242.71 L287.78,243.09 L287.94,243.49 L288.10,243.90 L288.23,244.32 L288.35,244.74 L288.45,245.17 L288.53,245.58 L288.58,245.99 L288.61,246.38 L288.62,246.75 L288.60,247.12 L288.55,247.51 L288.49,247.91 L288.39,248.32 L288.28,248.74 L288.15,249.16 L288.00,249.57 L287.84,249.97 L287.66,250.36 L287.47,250.73 L287.28,251.07 L287.07,251.39 L286.87,251.67 L286.67,251.91 L286.45,252.11 L286.22,252.31 L285.97,252.49 L285.70,252.66 L285.41,252.81 L285.12,252.94 L284.82,253.06 L284.51,253.16 L284.20,253.24 L283.89,253.31 L283.59,253.35 L283.30,253.37 L283.02,253.38 L282.77,253.36 L282.52,253.33 L282.27,253.27 L282.01,253.19 L281.75,253.09 L281.49,252.98 L281.21,252.84 L280.94,252.68 L280.66,252.51 L280.39,252.32 L280.11,252.12 L279.83,251.90 L279.56,251.66 L279.28,251.42 L279.02,251.17 L278.77,250.92 L278.52,250.64 L278.27,250.34 L278.02,250.01 L277.76,249.65 L277.49,249.27 L277.23,248.88 L276.96,248.47 L276.70,248.06 L276.42,247.63 L276.15,247.21 L275.87,246.78 L275.58,246.36 L275.30,245.96 L275.02,245.58 L274.74,245.20 L274.46,244.81 L274.18,244.40 L273.90,243.99 L273.62,243.57 L273.32,243.15 L273.03,242.74 L272.73,242.33 L272.42,241.93 L272.10,241.54 L271.77,241.17 L271.42,240.81 L271.07,240.48 L270.71,240.20 L270.36,239.94 L270.00,239.68 L269.64,239.44 L269.27,239.22 L268.89,239.01 L268.51,238.82 L268.12,238.65 L267.73,238.50 L267.34,238.37 L266.94,238.27 L266.53,238.20 L266.13,238.15 L265.72,238.14 L265.32,238.15 L264.91,238.19 L264.51,238.25 L264.10,238.34 L263.70,238.45 L263.30,238.59 L262.90,238.75 L262.52,238.93 L262.14,239.14 L261.77,239.37 L261.42,239.62 L261.09,239.89 L260.78,240.19 L260.49,240.51 L260.23,240.85 L259.98,241.23 L259.74,241.62 L259.52,242.04 L259.31,242.48 L259.12,242.93 L258.95,243.40 L258.79,243.88 L258.66,244.36 L258.54,244.85 L258.45,245.33 L258.39,245.81 L258.35,246.29 L258.34,246.72Z" fill="#000" fill-rule="nonzero"/>
<text font-size="100" transform="translate(704.28,31.10) scale(0.2993,0.3021)" >2</text>
<text font-size="100" transform="translate(704.05,198.60) scale(0.3026,0.3036)" >3</text>
<line x1="732.2" y1="175.90" x2="721.2" y2="205.90" stroke="#000" stroke-width="1.4"/>
<text font-size="100" transform="translate(733.84,198.90) scale(0.3093,0.3081)" >2</text>
<text font-size="100" transform="translate(704.97,247.10) scale(0.2689,0.3099)" >4</text>
<line x1="732.2" y1="224.10" x2="721.2" y2="254.10" stroke="#000" stroke-width="1.4"/>
<text font-size="100" transform="translate(733.76,246.80) scale(0.3002,0.3036)" >3</text>
<text font-size="100" transform="translate(703.70,285.80) scale(0.3103,0.3070)" >5</text>
<line x1="732.2" y1="263.10" x2="721.2" y2="293.10" stroke="#000" stroke-width="1.4"/>
<text font-size="100" transform="translate(734.68,286.10) scale(0.2668,0.3099)" >4</text>
<text font-size="100" transform="translate(704.24,316.40) scale(0.2926,0.3036)" >6</text>
<line x1="732.2" y1="293.70" x2="721.2" y2="323.70" stroke="#000" stroke-width="1.4"/>
<text font-size="100" transform="translate(733.41,316.40) scale(0.3078,0.3070)" >5</text>
<text font-size="100" transform="translate(702.85,370.90) scale(0.2897,0.3090)" >1</text>
<path d="M1.03,214.19 L1.34,212.88 L1.64,211.57 L1.95,210.26 L2.25,208.95 L2.56,207.65 L2.86,206.34 L3.17,205.03 L3.47,203.72 L3.78,202.41 L4.08,201.11 L4.39,199.81 L4.70,198.51 L5.01,197.22 L5.32,195.92 L5.63,194.61 L5.95,193.25 L6.27,191.87 L6.59,190.47 L6.92,189.07 L7.24,187.68 L7.57,186.30 L7.89,184.95 L8.21,183.64 L8.53,182.39 L8.84,181.19 L9.14,180.07 L9.43,179.04 L9.72,178.10 L9.99,177.26 L10.25,176.50 L10.49,175.82 L10.72,175.20 L10.94,174.65 L11.16,174.15 L11.38,173.70 L11.60,173.28 L11.82,172.89 L12.06,172.52 L12.30,172.15 L12.56,171.79 L12.83,171.42 L13.13,171.03 L13.43,170.66 L13.75,170.30 L14.09,169.96 L14.43,169.63 L14.78,169.32 L15.15,169.02 L15.52,168.74 L15.89,168.48 L16.27,168.23 L16.65,167.99 L17.03,167.78 L17.41,167.57 L17.78,167.39 L18.14,167.22 L18.50,167.08 L18.86,166.96 L19.23,166.85 L19.60,166.76 L19.97,166.68 L20.34,166.62 L20.71,166.58 L21.07,166.55 L21.43,166.54 L21.78,166.54 L22.11,166.56 L22.43,166.59 L22.74,166.64 L23.03,166.69 L23.30,166.79 L23.56,166.90 L23.82,167.02 L24.07,167.17 L24.32,167.32 L24.56,167.49 L24.78,167.66 L24.99,167.85 L25.19,168.05 L25.37,168.25 L25.54,168.46 L25.68,168.67 L25.81,168.87 L25.91,169.08 L26.01,169.29 L26.10,169.52 L26.18,169.76 L26.25,170.03 L26.31,170.30 L26.36,170.59 L26.40,170.89 L26.42,171.20 L26.44,171.51 L26.43,171.82 L26.42,172.13 L26.39,172.44 L26.35,172.75 L26.30,173.04 L26.27,173.35 L26.22,173.69 L26.16,174.04 L26.08,174.40 L25.98,174.78 L25.87,175.15 L25.74,175.53 L25.60,175.91 L25.45,176.28 L25.30,176.64 L25.13,176.98 L24.96,177.31 L24.78,177.61 L24.61,177.89 L24.43,178.15 L24.23,178.40 L24.02,178.64 L23.79,178.88 L23.55,179.11 L23.29,179.33 L23.02,179.54 L22.75,179.75 L22.46,179.95 L22.16,180.14 L21.86,180.33 L21.55,180.51 L21.24,180.69 L20.93,180.86 L20.61,181.00 L20.28,181.13 L19.93,181.25 L19.57,181.36 L19.21,181.46 L18.83,181.56 L18.46,181.65 L18.09,181.73 L17.72,181.80 L17.37,181.87 L17.02,181.93 L16.69,181.98 L16.39,182.02 L16.10,182.05 L15.84,182.07 L15.58,182.09 L15.32,182.09 L15.07,182.08 L14.83,182.07 L14.60,182.05 L14.39,182.02 L14.20,181.99 L14.03,181.95 L13.88,181.91 L13.77,181.88 L13.69,181.84 L13.67,181.83 L13.71,181.87 L13.77,181.98 L13.79,182.08 L13.79,182.12 L13.79,182.10 L13.82,182.06 L13.86,181.98 L13.93,181.90 L14.01,181.81 L14.11,181.72 L14.23,181.63 L14.35,181.55 L14.48,181.48 L14.61,181.42 L14.75,181.37 L14.92,181.32 L15.12,181.28 L15.34,181.24 L15.58,181.20 L15.84,181.17 L16.11,181.15 L16.39,181.13 L16.67,181.12 L16.96,181.12 L17.25,181.13 L17.55,181.15 L17.84,181.19 L18.12,181.24 L18.40,181.30 L18.69,181.39 L19.01,181.49 L19.33,181.60 L19.66,181.72 L19.99,181.86 L20.33,182.00 L20.66,182.15 L20.98,182.32 L21.29,182.49 L21.59,182.67 L21.87,182.86 L22.13,183.05 L22.36,183.24 L22.57,183.45 L22.75,183.67 L22.93,183.91 L23.09,184.17 L23.24,184.43 L23.38,184.70 L23.52,184.98 L23.64,185.27 L23.75,185.57 L23.85,185.87 L23.94,186.18 L24.02,186.50 L24.09,186.82 L24.15,187.15 L24.20,187.48 L24.27,187.82 L24.34,188.18 L24.39,188.54 L24.44,188.92 L24.47,189.30 L24.50,189.69 L24.51,190.09 L24.51,190.48 L24.50,190.88 L24.48,191.27 L24.44,191.66 L24.38,192.04 L24.32,192.41 L24.23,192.77 L24.16,193.15 L24.07,193.55 L23.96,193.95 L23.84,194.37 L23.69,194.79 L23.54,195.21 L23.36,195.63 L23.18,196.05 L22.98,196.47 L22.78,196.87 L22.56,197.27 L22.34,197.65 L22.11,198.01 L21.88,198.36 L21.64,198.70 L21.38,199.04 L21.11,199.37 L20.82,199.70 L20.52,200.02 L20.20,200.33 L19.88,200.63 L19.56,200.93 L19.22,201.21 L18.89,201.47 L18.55,201.72 L18.22,201.96 L17.88,202.17 L17.56,202.37 L17.22,202.53 L16.88,202.67 L16.54,202.80 L16.18,202.91 L15.83,203.01 L15.47,203.10 L15.11,203.17 L14.74,203.22 L14.38,203.27 L14.02,203.30 L13.66,203.33 L13.31,203.34 L12.97,203.34 L12.63,203.33 L12.29,203.30 L11.96,203.26 L11.62,203.20 L11.28,203.14 L10.94,203.06 L10.61,202.97 L10.29,202.87 L9.97,202.76 L9.66,202.63 L9.37,202.50 L9.09,202.36 L8.82,202.20 L8.58,202.04 L8.36,201.88 L8.16,201.71 L7.98,201.52 L7.81,201.30 L7.65,201.07 L7.49,200.81 L7.34,200.54 L7.20,200.26 L7.05,199.96 L6.91,199.65 L6.77,199.34 L6.62,199.02 L6.46,198.71 L6.30,198.39 L6.13,198.09 L5.00,198.73 L5.16,199.01 L5.30,199.29 L5.45,199.59 L5.59,199.89 L5.73,200.20 L5.88,200.52 L6.03,200.83 L6.19,201.15 L6.37,201.47 L6.56,201.78 L6.77,202.08 L7.00,202.37 L7.26,202.64 L7.54,202.89 L7.84,203.11 L8.15,203.31 L8.47,203.50 L8.81,203.67 L9.15,203.83 L9.51,203.97 L9.88,204.10 L10.25,204.22 L10.63,204.32 L11.01,204.41 L11.39,204.48 L11.78,204.54 L12.16,204.59 L12.54,204.62 L12.92,204.65 L13.30,204.66 L13.70,204.67 L14.10,204.66 L14.50,204.64 L14.91,204.60 L15.33,204.55 L15.74,204.48 L16.15,204.40 L16.57,204.30 L16.98,204.19 L17.40,204.05 L17.80,203.90 L18.20,203.72 L18.61,203.55 L19.02,203.36 L19.43,203.14 L19.85,202.91 L20.26,202.66 L20.67,202.40 L21.08,202.11 L21.48,201.82 L21.87,201.51 L22.26,201.19 L22.63,200.85 L23.00,200.51 L23.35,200.15 L23.68,199.78 L24.01,199.40 L24.32,199.00 L24.62,198.59 L24.92,198.16 L25.21,197.72 L25.48,197.26 L25.74,196.80 L25.99,196.33 L26.23,195.86 L26.45,195.38 L26.65,194.90 L26.84,194.42 L27.01,193.93 L27.16,193.45 L27.25,192.96 L27.33,192.46 L27.38,191.96 L27.41,191.46 L27.43,190.96 L27.43,190.47 L27.41,189.98 L27.38,189.50 L27.33,189.02 L27.27,188.56 L27.20,188.11 L27.12,187.66 L27.03,187.24 L26.92,186.82 L26.78,186.42 L26.63,186.03 L26.46,185.64 L26.28,185.26 L26.09,184.89 L25.88,184.53 L25.67,184.18 L25.44,183.85 L25.19,183.52 L24.94,183.21 L24.67,182.92 L24.39,182.63 L24.09,182.37 L23.79,182.12 L23.47,181.87 L23.13,181.63 L22.77,181.42 L22.41,181.22 L22.03,181.04 L21.65,180.88 L21.26,180.73 L20.88,180.59 L20.49,180.46 L20.11,180.35 L19.74,180.25 L19.37,180.17 L19.02,180.09 L18.68,180.03 L18.35,179.96 L18.00,179.91 L17.65,179.88 L17.31,179.86 L16.97,179.86 L16.64,179.86 L16.31,179.88 L16.00,179.91 L15.69,179.94 L15.40,179.99 L15.12,180.04 L14.86,180.09 L14.62,180.15 L14.39,180.22 L14.16,180.30 L13.93,180.41 L13.72,180.53 L13.52,180.66 L13.34,180.80 L13.17,180.95 L13.02,181.11 L12.89,181.28 L12.78,181.46 L12.68,181.64 L12.62,181.85 L12.59,182.09 L12.64,182.37 L12.78,182.63 L12.97,182.80 L13.15,182.91 L13.33,183.00 L13.53,183.06 L13.75,183.12 L13.97,183.17 L14.22,183.21 L14.48,183.24 L14.74,183.27 L15.03,183.28 L15.31,183.29 L15.61,183.28 L15.91,183.27 L16.22,183.25 L16.53,183.22 L16.85,183.18 L17.20,183.13 L17.57,183.08 L17.94,183.02 L18.33,182.95 L18.73,182.87 L19.13,182.78 L19.53,182.69 L19.93,182.58 L20.32,182.46 L20.71,182.34 L21.09,182.20 L21.45,182.05 L21.81,181.92 L22.16,181.79 L22.52,181.65 L22.88,181.49 L23.23,181.33 L23.59,181.16 L23.95,180.97 L24.30,180.77 L24.64,180.55 L24.98,180.32 L25.32,180.07 L25.64,179.80 L25.95,179.51 L26.25,179.20 L26.54,178.86 L26.81,178.50 L27.07,178.13 L27.32,177.74 L27.56,177.33 L27.79,176.91 L28.00,176.49 L28.20,176.05 L28.39,175.62 L28.56,175.18 L28.71,174.74 L28.85,174.30 L28.97,173.87 L29.07,173.45 L29.10,173.02 L29.12,172.59 L29.11,172.16 L29.09,171.74 L29.05,171.31 L28.99,170.89 L28.92,170.48 L28.82,170.08 L28.71,169.68 L28.58,169.29 L28.43,168.92 L28.26,168.55 L28.08,168.20 L27.87,167.87 L27.63,167.57 L27.37,167.28 L27.09,167.01 L26.80,166.75 L26.50,166.51 L26.18,166.30 L25.85,166.09 L25.51,165.91 L25.16,165.74 L24.80,165.60 L24.44,165.47 L24.07,165.37 L23.70,165.29 L23.33,165.23 L22.96,165.17 L22.58,165.13 L22.19,165.10 L21.79,165.10 L21.38,165.11 L20.97,165.14 L20.55,165.19 L20.13,165.26 L19.70,165.34 L19.28,165.44 L18.86,165.56 L18.44,165.70 L18.03,165.85 L17.62,166.03 L17.22,166.21 L16.81,166.40 L16.40,166.62 L15.98,166.85 L15.56,167.10 L15.15,167.36 L14.73,167.65 L14.32,167.95 L13.91,168.27 L13.51,168.61 L13.12,168.97 L12.75,169.35 L12.38,169.75 L12.04,170.16 L11.72,170.56 L11.42,170.95 L11.13,171.34 L10.86,171.74 L10.60,172.15 L10.34,172.58 L10.09,173.04 L9.84,173.53 L9.60,174.07 L9.35,174.66 L9.10,175.30 L8.84,176.01 L8.57,176.79 L8.29,177.66 L8.00,178.62 L7.71,179.68 L7.41,180.82 L7.10,182.03 L6.79,183.29 L6.47,184.61 L6.16,185.97 L5.84,187.35 L5.52,188.75 L5.20,190.16 L4.89,191.55 L4.57,192.93 L4.26,194.29 L3.95,195.60 L3.65,196.89 L3.35,198.19 L3.05,199.50 L2.75,200.80 L2.45,202.11 L2.15,203.41 L1.85,204.72 L1.55,206.03 L1.25,207.35 L0.96,208.66 L0.66,209.97 L0.36,211.28 L0.06,212.59 L-0.24,213.89Z" fill="#000"/>
<path d="M404.36,431.12 L404.20,431.51 L404.05,431.90 L403.90,432.29 L403.75,432.68 L403.61,433.06 L403.46,433.45 L403.31,433.83 L403.16,434.21 L403.01,434.60 L402.85,434.98 L402.69,435.37 L402.51,435.75 L402.33,436.14 L402.15,436.53 L401.94,436.94 L401.73,437.35 L401.51,437.77 L401.29,438.19 L401.05,438.62 L400.81,439.05 L400.57,439.48 L400.32,439.90 L400.07,440.32 L399.83,440.74 L399.58,441.14 L399.33,441.53 L399.09,441.92 L398.86,442.28 L398.62,442.64 L398.39,442.98 L398.16,443.32 L397.94,443.65 L397.71,443.97 L397.49,444.28 L397.26,444.58 L397.04,444.88 L396.81,445.17 L396.58,445.45 L396.34,445.73 L396.10,446.00 L395.86,446.27 L395.61,446.53 L395.35,446.80 L395.09,447.05 L394.82,447.31 L394.55,447.55 L394.27,447.80 L393.99,448.03 L393.71,448.26 L393.43,448.49 L393.14,448.70 L392.85,448.91 L392.56,449.12 L392.27,449.31 L391.99,449.49 L391.70,449.67 L391.41,449.84 L391.11,450.00 L390.81,450.16 L390.51,450.31 L390.20,450.45 L389.90,450.59 L389.59,450.72 L389.28,450.84 L388.98,450.95 L388.68,451.05 L388.38,451.14 L388.09,451.23 L387.80,451.30 L387.51,451.36 L387.23,451.41 L386.94,451.46 L386.66,451.50 L386.39,451.53 L386.13,451.55 L385.87,451.56 L385.61,451.57 L385.37,451.56 L385.12,451.54 L384.88,451.51 L384.65,451.47 L384.42,451.41 L384.18,451.34 L383.95,451.25 L383.71,451.11 L383.46,450.95 L383.21,450.78 L382.95,450.60 L382.70,450.40 L382.45,450.19 L382.20,449.97 L381.96,449.74 L381.73,449.50 L381.51,449.26 L381.31,449.01 L381.12,448.76 L380.95,448.51 L380.81,448.26 L380.67,448.00 L380.52,447.72 L380.39,447.42 L380.26,447.11 L380.14,446.80 L380.03,446.47 L379.92,446.13 L379.83,445.79 L379.75,445.45 L379.68,445.11 L379.63,444.77 L379.59,444.43 L379.56,444.10 L379.55,443.78 L379.50,443.45 L379.47,443.11 L379.44,442.77 L379.43,442.42 L379.43,442.06 L379.44,441.69 L379.46,441.33 L379.50,440.96 L379.54,440.59 L379.60,440.23 L379.67,439.86 L379.75,439.50 L379.84,439.15 L379.95,438.81 L380.03,438.45 L380.14,438.08 L380.27,437.69 L380.41,437.29 L380.58,436.88 L380.76,436.47 L380.95,436.07 L381.15,435.67 L381.35,435.28 L381.56,434.90 L381.77,434.54 L381.98,434.20 L382.19,433.88 L382.39,433.60 L382.59,433.35 L382.79,433.12 L383.00,432.91 L383.21,432.71 L383.44,432.51 L383.68,432.33 L383.92,432.16 L384.17,431.99 L384.43,431.83 L384.69,431.68 L384.96,431.53 L385.23,431.38 L385.51,431.23 L385.78,431.08 L386.06,430.97 L386.33,430.86 L386.61,430.76 L386.88,430.66 L387.15,430.57 L387.42,430.49 L387.69,430.42 L387.95,430.36 L388.21,430.30 L388.46,430.26 L388.71,430.23 L388.96,430.21 L389.20,430.21 L389.43,430.22 L389.67,430.25 L389.92,430.30 L390.16,430.35 L390.39,430.42 L390.63,430.49 L390.85,430.57 L391.08,430.66 L391.29,430.77 L391.51,430.88 L391.71,431.01 L391.92,431.14 L392.11,431.29 L392.31,431.46 L392.50,431.64 L392.69,431.84 L392.88,432.06 L393.07,432.29 L393.27,432.55 L393.46,432.82 L393.65,433.10 L393.83,433.39 L394.01,433.70 L394.18,434.02 L394.35,434.34 L394.50,434.68 L394.65,435.03 L394.80,435.38 L394.93,435.74 L395.05,436.10 L395.16,436.48 L395.27,436.89 L395.37,437.31 L395.47,437.75 L395.56,438.21 L395.64,438.68 L395.72,439.16 L395.80,439.65 L395.87,440.14 L395.95,440.63 L396.02,441.12 L396.09,441.61 L396.17,442.08 L396.26,442.54 L396.35,443.00 L396.43,443.48 L396.50,443.97 L396.58,444.47 L396.65,444.97 L396.72,445.47 L396.79,445.96 L396.87,446.45 L396.95,446.93 L397.03,447.39 L397.12,447.84 L397.22,448.28 L397.33,448.68 L397.44,449.06 L397.56,449.42 L397.69,449.76 L397.82,450.10 L397.95,450.41 L398.09,450.72 L398.24,451.00 L398.38,451.27 L398.54,451.53 L398.70,451.77 L398.87,451.99 L399.04,452.20 L399.23,452.39 L399.45,452.56 L399.70,452.72 L399.98,452.83 L400.27,452.89 L400.55,452.89 L400.81,452.86 L401.05,452.79 L401.26,452.69 L401.45,452.59 L401.63,452.47 L401.79,452.35 L401.94,452.22 L402.08,452.09 L402.22,451.96 L402.36,451.82 L402.52,451.66 L402.67,451.49 L402.82,451.30 L402.96,451.11 L403.10,450.91 L403.23,450.70 L403.36,450.49 L403.49,450.28 L403.62,450.07 L403.75,449.86 L403.87,449.65 L403.99,449.45 L404.12,449.25 L404.24,449.06 L403.43,448.48 L403.28,448.66 L403.13,448.86 L402.99,449.06 L402.84,449.26 L402.69,449.46 L402.55,449.66 L402.41,449.85 L402.27,450.03 L402.14,450.21 L402.00,450.37 L401.87,450.51 L401.75,450.63 L401.64,450.74 L401.52,450.82 L401.39,450.90 L401.25,450.98 L401.12,451.05 L400.99,451.11 L400.88,451.15 L400.77,451.19 L400.69,451.20 L400.63,451.20 L400.59,451.18 L400.58,451.16 L400.59,451.14 L400.62,451.13 L400.65,451.12 L400.65,451.09 L400.61,451.04 L400.55,450.95 L400.48,450.83 L400.40,450.69 L400.31,450.52 L400.23,450.33 L400.14,450.11 L400.05,449.88 L399.96,449.63 L399.87,449.36 L399.79,449.07 L399.71,448.77 L399.63,448.45 L399.56,448.13 L399.50,447.79 L399.44,447.42 L399.39,447.02 L399.34,446.59 L399.29,446.14 L399.25,445.67 L399.20,445.18 L399.16,444.68 L399.12,444.17 L399.07,443.66 L399.02,443.14 L398.96,442.62 L398.90,442.11 L398.83,441.62 L398.73,441.14 L398.64,440.67 L398.54,440.18 L398.45,439.69 L398.35,439.19 L398.25,438.69 L398.14,438.19 L398.03,437.69 L397.91,437.20 L397.78,436.71 L397.65,436.22 L397.50,435.75 L397.33,435.29 L397.16,434.85 L396.96,434.44 L396.76,434.03 L396.55,433.64 L396.33,433.26 L396.10,432.89 L395.86,432.53 L395.61,432.19 L395.36,431.86 L395.10,431.55 L394.84,431.25 L394.58,430.96 L394.31,430.70 L394.03,430.45 L393.76,430.21 L393.47,429.99 L393.18,429.79 L392.89,429.61 L392.59,429.45 L392.28,429.31 L391.98,429.18 L391.67,429.07 L391.37,428.98 L391.06,428.90 L390.75,428.84 L390.45,428.79 L390.14,428.76 L389.84,428.73 L389.54,428.72 L389.23,428.70 L388.91,428.70 L388.59,428.72 L388.27,428.75 L387.96,428.79 L387.64,428.84 L387.32,428.91 L387.01,428.99 L386.70,429.07 L386.39,429.17 L386.08,429.27 L385.78,429.37 L385.48,429.49 L385.18,429.60 L384.88,429.69 L384.57,429.78 L384.26,429.88 L383.94,429.98 L383.61,430.09 L383.28,430.22 L382.94,430.36 L382.60,430.51 L382.26,430.68 L381.92,430.88 L381.57,431.09 L381.23,431.33 L380.89,431.60 L380.56,431.89 L380.23,432.20 L379.90,432.53 L379.58,432.88 L379.25,433.25 L378.93,433.63 L378.61,434.04 L378.30,434.46 L377.99,434.89 L377.70,435.33 L377.42,435.78 L377.15,436.23 L376.90,436.69 L376.66,437.15 L376.45,437.61 L376.29,438.08 L376.15,438.55 L376.02,439.03 L375.91,439.51 L375.82,439.99 L375.74,440.48 L375.68,440.96 L375.64,441.45 L375.60,441.93 L375.59,442.41 L375.59,442.89 L375.60,443.36 L375.63,443.83 L375.68,444.29 L375.79,444.75 L375.91,445.21 L376.05,445.66 L376.21,446.11 L376.38,446.55 L376.57,446.98 L376.77,447.40 L376.98,447.81 L377.21,448.21 L377.44,448.60 L377.69,448.98 L377.95,449.34 L378.22,449.68 L378.50,450.01 L378.80,450.32 L379.12,450.62 L379.46,450.90 L379.80,451.16 L380.15,451.41 L380.51,451.64 L380.87,451.85 L381.23,452.04 L381.60,452.22 L381.96,452.38 L382.32,452.53 L382.68,452.65 L383.03,452.76 L383.37,452.85 L383.71,452.95 L384.04,453.02 L384.37,453.08 L384.70,453.11 L385.03,453.13 L385.35,453.13 L385.67,453.12 L385.98,453.09 L386.29,453.05 L386.60,453.00 L386.90,452.94 L387.21,452.88 L387.51,452.81 L387.82,452.73 L388.14,452.65 L388.46,452.56 L388.79,452.46 L389.12,452.35 L389.45,452.23 L389.78,452.10 L390.11,451.96 L390.44,451.82 L390.77,451.66 L391.10,451.50 L391.42,451.33 L391.74,451.15 L392.06,450.97 L392.37,450.78 L392.68,450.58 L392.99,450.38 L393.30,450.16 L393.60,449.94 L393.90,449.71 L394.21,449.47 L394.50,449.23 L394.80,448.98 L395.09,448.72 L395.37,448.46 L395.66,448.19 L395.93,447.92 L396.21,447.64 L396.48,447.36 L396.74,447.08 L396.99,446.79 L397.24,446.49 L397.48,446.19 L397.72,445.89 L397.96,445.58 L398.19,445.26 L398.42,444.94 L398.64,444.62 L398.87,444.28 L399.09,443.94 L399.32,443.60 L399.55,443.24 L399.78,442.88 L400.02,442.50 L400.26,442.10 L400.50,441.70 L400.75,441.28 L400.99,440.86 L401.24,440.43 L401.48,439.99 L401.72,439.55 L401.96,439.11 L402.19,438.67 L402.42,438.24 L402.64,437.81 L402.85,437.38 L403.05,436.97 L403.24,436.56 L403.42,436.15 L403.59,435.75 L403.75,435.35 L403.90,434.95 L404.06,434.56 L404.20,434.17 L404.34,433.78 L404.48,433.39 L404.62,433.00 L404.76,432.61 L404.91,432.23 L405.05,431.84 L405.20,431.45Z" fill="#000"/>
</g>
</svg></body></html>
